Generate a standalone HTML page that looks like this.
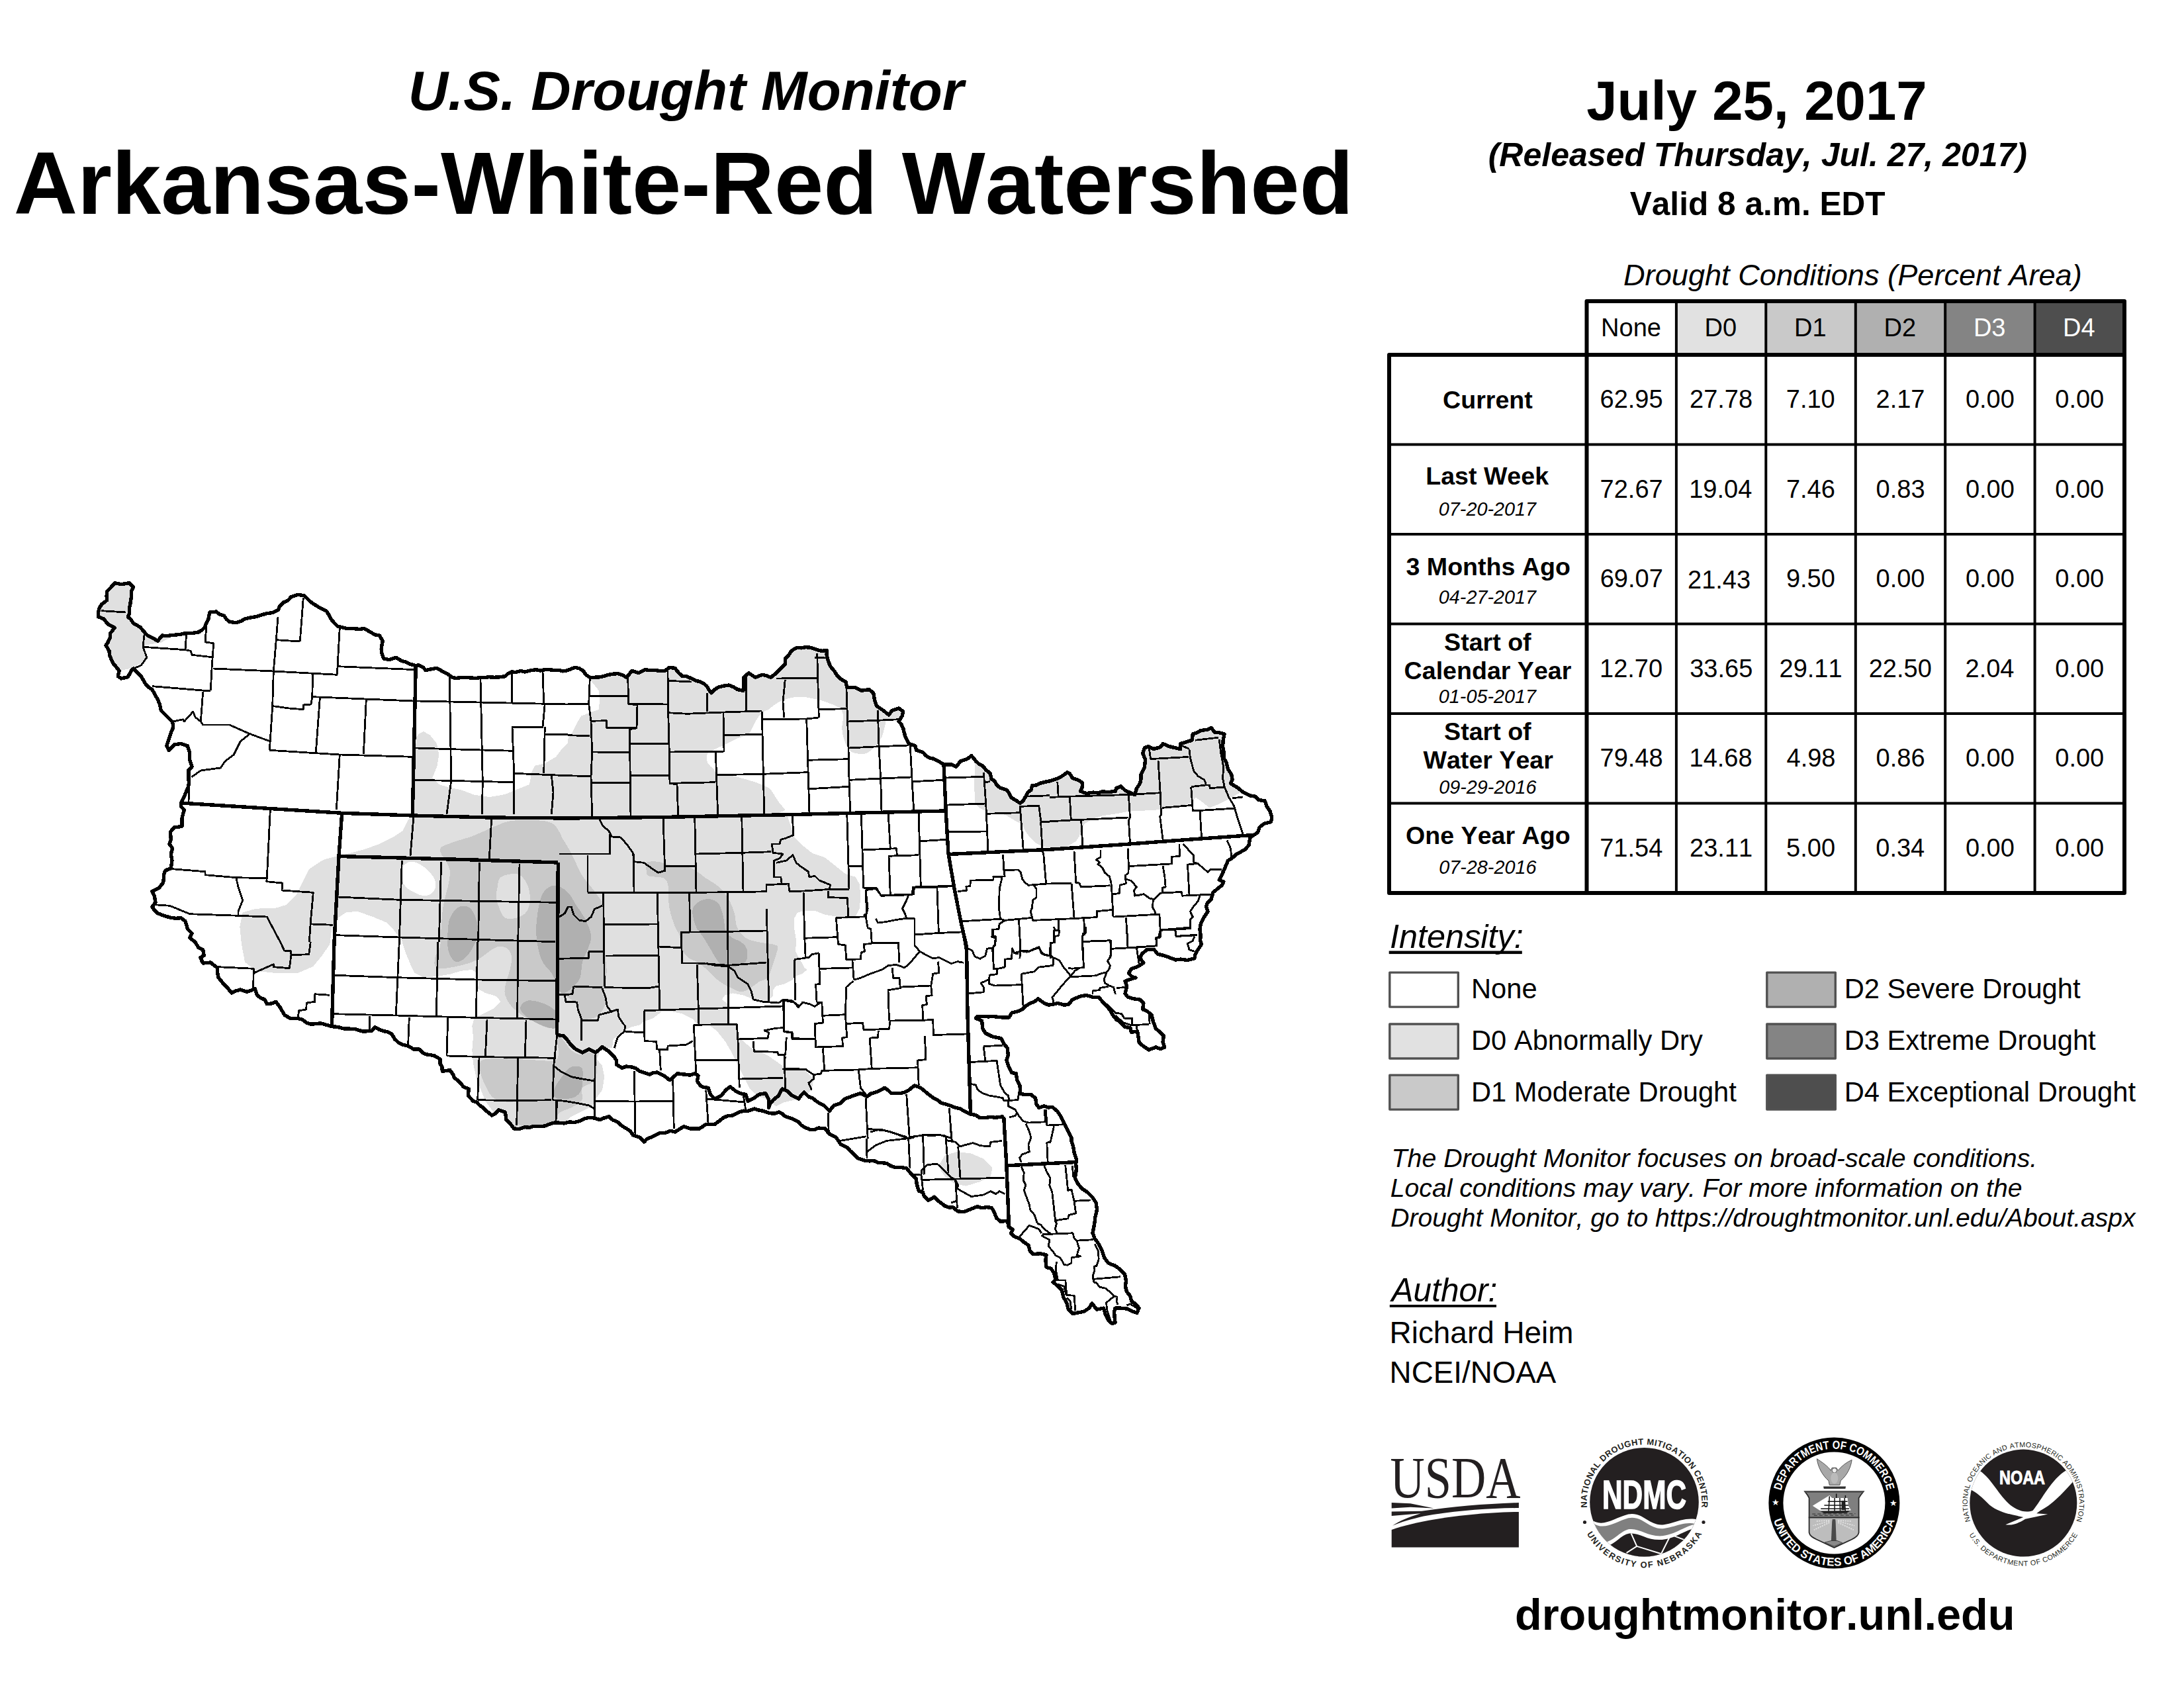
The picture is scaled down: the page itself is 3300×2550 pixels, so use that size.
<!DOCTYPE html>
<html lang="en"><head><meta charset="utf-8"><title>U.S. Drought Monitor - Arkansas-White-Red Watershed</title>
<style>
html,body{margin:0;padding:0;background:#fff;}
body{width:3300px;height:2550px;overflow:hidden;}
svg{display:block;}
text{font-kerning:none;font-family:"Liberation Sans",Arial,Helvetica,sans-serif;fill:#000;}
.b{font-weight:bold}.i{font-style:italic}.m{text-anchor:middle}
</style></head><body>
<svg width="3300" height="2550" viewBox="0 0 3300 2550">
<rect width="3300" height="2550" fill="#fff"/>
<g id="titles">
<text class="b i" x="616.8" y="166.0" font-size="83.49">U.S. Drought Monitor</text>
<text class="b" x="20.7" y="323.0" font-size="133.45">Arkansas-White-Red Watershed</text>
<text class="b" x="2397.2" y="180.8" font-size="83.36">July 25, 2017</text>
<text class="b i" x="2248.7" y="250.5" font-size="50.01">(Released Thursday, Jul. 27, 2017)</text>
<text class="b" x="2462.7" y="325.2" font-size="49.62">Valid 8 a.m. EDT</text>
<text class="i" x="2453.0" y="431.0" font-size="45.17">Drought Conditions (Percent Area)</text>
</g>
<g id="notes">
<text class="i" x="2102.6" y="1762.8" font-size="39.27">The Drought Monitor focuses on broad-scale conditions.</text>
<text class="i" x="2100.8" y="1807.6" font-size="39.13">Local conditions may vary. For more information on the</text>
<text class="i" x="2101.3" y="1852.7" font-size="39.09">Drought Monitor, go to https://droughtmonitor.unl.edu/About.aspx</text>
<text class="i" x="2102.5" y="1965.8" font-size="49.58">Author:</text>
<rect x="2099.8" y="1971" width="161.2" height="3.8" fill="#000"/>
<text x="2099.6" y="2028.8" font-size="45.88">Richard Heim</text>
<text x="2099.6" y="2088.8" font-size="45.78">NCEI/NOAA</text>
<text class="b" x="2288.9" y="2462.4" font-size="66.70">droughtmonitor.unl.edu</text>
</g>
<g id="table">
<rect x="2397.5" y="455" width="135.4" height="81" fill="#ffffff"/>
<rect x="2532.9" y="455" width="135.4" height="81" fill="#e1e1e1"/>
<rect x="2668.3" y="455" width="135.4" height="81" fill="#c9c9c9"/>
<rect x="2803.8" y="455" width="135.4" height="81" fill="#b0b0b0"/>
<rect x="2939.2" y="455" width="135.4" height="81" fill="#848484"/>
<rect x="3074.6" y="455" width="135.4" height="81" fill="#4e4e4e"/>
<line x1="2532.9" y1="455" x2="2532.9" y2="1349" stroke="#000" stroke-width="4"/>
<line x1="2668.3" y1="455" x2="2668.3" y2="1349" stroke="#000" stroke-width="4"/>
<line x1="2803.8" y1="455" x2="2803.8" y2="1349" stroke="#000" stroke-width="4"/>
<line x1="2939.2" y1="455" x2="2939.2" y2="1349" stroke="#000" stroke-width="4"/>
<line x1="3074.6" y1="455" x2="3074.6" y2="1349" stroke="#000" stroke-width="4"/>
<line x1="2099" y1="671.5" x2="3210" y2="671.5" stroke="#000" stroke-width="4"/>
<line x1="2099" y1="807.0" x2="3210" y2="807.0" stroke="#000" stroke-width="4"/>
<line x1="2099" y1="942.5" x2="3210" y2="942.5" stroke="#000" stroke-width="4"/>
<line x1="2099" y1="1078.0" x2="3210" y2="1078.0" stroke="#000" stroke-width="4"/>
<line x1="2099" y1="1213.5" x2="3210" y2="1213.5" stroke="#000" stroke-width="4"/>
<path d="M2397.5 536 V455 H3210 V1349 H2099 V536 H3210 M2397.5 536 V1349" fill="none" stroke="#000" stroke-width="6" stroke-linejoin="round"/>
<text x="2419.1" y="507.5" font-size="38.00">None</text>
<text x="2575.5" y="507.5" font-size="38.00">D0</text>
<text x="2711.1" y="507.5" font-size="38.00">D1</text>
<text x="2846.6" y="507.5" font-size="38.00">D2</text>
<text x="2981.9" y="507.5" font-size="38.00" style="fill:#fff">D3</text>
<text x="3117.0" y="507.5" font-size="38.00" style="fill:#fff">D4</text>
<text x="2417.5" y="616.3" font-size="38.00">62.95</text>
<text x="2553.0" y="616.3" font-size="38.00">27.78</text>
<text x="2698.8" y="616.3" font-size="38.00">7.10</text>
<text x="2834.5" y="616.3" font-size="38.00">2.17</text>
<text x="2969.9" y="616.3" font-size="38.00">0.00</text>
<text x="3105.3" y="616.3" font-size="38.00">0.00</text>
<text x="2417.6" y="751.8" font-size="38.00">72.67</text>
<text x="2552.2" y="751.8" font-size="38.00">19.04</text>
<text x="2698.9" y="751.8" font-size="38.00">7.46</text>
<text x="2834.6" y="751.8" font-size="38.00">0.83</text>
<text x="2969.9" y="751.8" font-size="38.00">0.00</text>
<text x="3105.3" y="751.8" font-size="38.00">0.00</text>
<text x="2417.7" y="887.3" font-size="38.00">69.07</text>
<text x="2550.0" y="889.3" font-size="38.00">21.43</text>
<text x="2698.9" y="887.3" font-size="38.00">9.50</text>
<text x="2834.5" y="887.3" font-size="38.00">0.00</text>
<text x="2969.9" y="887.3" font-size="38.00">0.00</text>
<text x="3105.3" y="887.3" font-size="38.00">0.00</text>
<text x="2417.0" y="1022.8" font-size="38.00">12.70</text>
<text x="2553.2" y="1022.8" font-size="38.00">33.65</text>
<text x="2688.5" y="1022.8" font-size="38.00">29.11</text>
<text x="2823.7" y="1022.8" font-size="38.00">22.50</text>
<text x="2969.5" y="1022.8" font-size="38.00">2.04</text>
<text x="3105.3" y="1022.8" font-size="38.00">0.00</text>
<text x="2417.5" y="1158.3" font-size="38.00">79.48</text>
<text x="2552.5" y="1158.3" font-size="38.00">14.68</text>
<text x="2699.5" y="1158.3" font-size="38.00">4.98</text>
<text x="2834.6" y="1158.3" font-size="38.00">0.86</text>
<text x="2969.9" y="1158.3" font-size="38.00">0.00</text>
<text x="3105.3" y="1158.3" font-size="38.00">0.00</text>
<text x="2417.2" y="1293.8" font-size="38.00">71.54</text>
<text x="2553.1" y="1293.8" font-size="38.00">23.11</text>
<text x="2699.1" y="1293.8" font-size="38.00">5.00</text>
<text x="2834.3" y="1293.8" font-size="38.00">0.34</text>
<text x="2969.9" y="1293.8" font-size="38.00">0.00</text>
<text x="3105.3" y="1293.8" font-size="38.00">0.00</text>
<text class="b" x="2180.1" y="617.4" font-size="37.60">Current</text>
<text class="b" x="2154.2" y="732.0" font-size="37.60">Last Week</text>
<text class="i" x="2173.8" y="778.9" font-size="28.80">07-20-2017</text>
<text class="b" x="2124.5" y="869.3" font-size="37.60">3 Months Ago</text>
<text class="i" x="2173.8" y="912.2" font-size="28.80">04-27-2017</text>
<text class="b" x="2182.1" y="983.0" font-size="37.60">Start of</text>
<text class="b" x="2121.6" y="1025.7" font-size="37.60">Calendar Year</text>
<text class="i" x="2173.8" y="1061.5" font-size="28.80">01-05-2017</text>
<text class="b" x="2182.1" y="1118.4" font-size="37.60">Start of</text>
<text class="b" x="2150.5" y="1161.0" font-size="37.60">Water Year</text>
<text class="i" x="2174.2" y="1199.2" font-size="28.80">09-29-2016</text>
<text class="b" x="2124.1" y="1274.9" font-size="37.60">One Year Ago</text>
<text class="i" x="2174.2" y="1320.4" font-size="28.80">07-28-2016</text>
</g>
<g id="legend">
<text class="i" x="2100.0" y="1432.4" font-size="50.43">Intensity:</text>
<rect x="2098.7" y="1436.5" width="201.1" height="4.6" fill="#000"/>
<rect x="2099.8" y="1469.1" width="103.5" height="52" fill="#ffffff" stroke="#515151" stroke-width="3.4" stroke-linejoin="round"/>
<text x="2223.0" y="1508.3" font-size="41.70">None</text>
<rect x="2099.8" y="1547.0" width="103.5" height="52" fill="#e1e1e1" stroke="#515151" stroke-width="3.4" stroke-linejoin="round"/>
<text x="2223.0" y="1586.4" font-size="41.70">D0 Abnormally Dry</text>
<rect x="2099.8" y="1624.1" width="103.5" height="52" fill="#c9c9c9" stroke="#515151" stroke-width="3.4" stroke-linejoin="round"/>
<text x="2223.0" y="1663.5" font-size="41.70">D1 Moderate Drought</text>
<rect x="2669.8" y="1469.1" width="103.5" height="52" fill="#b0b0b0" stroke="#515151" stroke-width="3.4" stroke-linejoin="round"/>
<text x="2786.7" y="1508.3" font-size="41.70">D2 Severe Drought</text>
<rect x="2669.8" y="1547.0" width="103.5" height="52" fill="#848484" stroke="#515151" stroke-width="3.4" stroke-linejoin="round"/>
<text x="2786.7" y="1586.4" font-size="41.70">D3 Extreme Drought</text>
<rect x="2669.8" y="1624.1" width="103.5" height="52" fill="#4e4e4e" stroke="#515151" stroke-width="3.4" stroke-linejoin="round"/>
<text x="2786.7" y="1663.5" font-size="41.70">D4 Exceptional Drought</text>
</g>
<g id="map" shape-rendering="crispEdges">
<defs><clipPath id="ws"><path d="M173.3 880.7 L183.3 882.7 L195.0 880.7 L201.7 886.7 L198.3 893.3 L196.7 913.3 L193.3 931.7 L201.7 941.7 L211.7 947.3 L218.3 955.0 L230.0 963.3 L238.3 968.3 L245.0 960.0 L263.3 959.3 L280.0 956.7 L300.0 955.0 L310.0 946.7 L315.0 935.0 L316.7 925.0 L326.7 924.0 L338.3 930.0 L346.7 939.3 L356.7 940.7 L370.0 935.0 L386.7 931.7 L403.3 926.7 L420.0 921.7 L428.3 910.0 L440.0 901.7 L450.0 898.3 L460.0 900.0 L468.3 908.3 L483.3 918.3 L493.3 923.3 L500.0 935.0 L510.0 946.0 L530.0 949.3 L550.0 949.3 L560.0 955.0 L573.3 960.0 L578.3 968.3 L576.7 986.7 L580.0 995.0 L588.3 996.7 L598.3 993.3 L606.7 998.3 L620.0 1003.3 L633.3 1005.0 L643.3 1012.7 L660.0 1009.3 L670.0 1015.0 L683.3 1023.3 L703.3 1023.3 L726.7 1023.3 L746.7 1023.3 L763.3 1021.7 L773.3 1015.0 L793.3 1015.0 L810.0 1011.7 L830.0 1011.7 L857.7 1012.7 L869.7 1008.3 L881.3 1013.3 L891.3 1023.3 L908.0 1022.7 L924.7 1018.3 L941.3 1020.0 L946.3 1023.3 L954.7 1013.3 L964.7 1016.7 L974.7 1011.7 L991.3 1012.7 L1004.7 1013.3 L1011.3 1008.3 L1019.7 1009.3 L1031.3 1021.7 L1044.7 1025.0 L1058.0 1030.0 L1068.0 1036.7 L1074.7 1046.7 L1084.7 1038.3 L1101.3 1035.0 L1114.7 1041.7 L1123.0 1043.3 L1124.0 1023.3 L1131.3 1016.7 L1141.3 1023.3 L1151.3 1019.3 L1164.7 1023.3 L1173.0 1016.7 L1178.0 1011.7 L1186.3 1003.3 L1186.3 995.0 L1194.7 985.0 L1204.7 978.3 L1224.7 978.3 L1234.7 981.7 L1249.7 982.7 L1250.7 996.7 L1254.7 1006.7 L1264.7 1020.0 L1278.0 1030.0 L1279.7 1038.3 L1291.3 1038.3 L1301.3 1043.3 L1313.0 1041.7 L1319.7 1046.7 L1321.3 1056.7 L1324.7 1066.7 L1334.7 1073.3 L1343.0 1080.0 L1348.0 1073.3 L1358.0 1070.0 L1364.7 1075.0 L1363.0 1081.7 L1358.0 1090.0 L1364.7 1100.0 L1368.0 1113.3 L1373.0 1123.3 L1383.0 1126.7 L1384.7 1133.3 L1394.7 1136.7 L1404.7 1145.0 L1418.0 1150.0 L1426.3 1155.0 L1438.0 1155.0 L1444.7 1158.3 L1451.3 1150.0 L1461.3 1146.7 L1468.0 1141.7 L1474.7 1150.0 L1484.7 1156.7 L1496.3 1168.3 L1498.0 1176.7 L1511.3 1190.0 L1521.3 1193.3 L1528.0 1205.0 L1541.3 1213.3 L1549.7 1203.3 L1558.0 1193.3 L1559.7 1186.7 L1571.3 1183.3 L1585.7 1180.0 L1596.5 1176.6 L1604.5 1172.6 L1612.5 1166.8 L1616.4 1168.6 L1620.4 1175.3 L1631.0 1179.3 L1635.8 1183.2 L1635.0 1189.9 L1632.4 1195.2 L1641.7 1198.6 L1652.3 1197.1 L1665.6 1196.0 L1676.2 1196.5 L1685.5 1195.2 L1686.8 1190.7 L1693.5 1188.0 L1700.1 1193.9 L1708.1 1197.8 L1714.7 1200.5 L1717.4 1191.2 L1722.7 1183.2 L1724.0 1170.0 L1729.3 1159.3 L1730.6 1147.4 L1726.6 1138.1 L1729.3 1130.1 L1734.6 1127.5 L1742.6 1131.5 L1753.2 1128.8 L1757.2 1123.5 L1766.5 1127.5 L1777.1 1130.1 L1783.7 1131.5 L1783.7 1123.5 L1793.0 1120.8 L1801.0 1118.2 L1802.3 1108.9 L1814.3 1103.6 L1824.9 1102.2 L1830.2 1099.6 L1835.5 1106.2 L1850.1 1108.9 L1848.3 1116.9 L1847.5 1127.5 L1848.8 1144.7 L1852.8 1151.4 L1855.5 1162.0 L1860.8 1170.0 L1862.1 1177.9 L1859.4 1183.2 L1870.1 1189.9 L1878.0 1196.5 L1888.6 1201.8 L1896.6 1203.2 L1901.9 1208.5 L1911.2 1209.8 L1913.9 1217.8 L1919.2 1225.7 L1921.8 1235.0 L1920.5 1241.7 L1909.9 1244.3 L1903.3 1249.6 L1900.6 1257.6 L1894.0 1261.6 L1888.6 1265.6 L1887.3 1276.2 L1882.0 1282.8 L1872.7 1288.1 L1862.1 1296.1 L1855.5 1300.1 L1851.5 1309.4 L1847.5 1318.7 L1842.2 1329.3 L1848.8 1332.0 L1846.2 1337.3 L1838.2 1343.9 L1832.9 1347.9 L1830.2 1358.5 L1822.3 1369.1 L1824.9 1377.1 L1819.6 1385.1 L1814.3 1395.7 L1813.0 1403.7 L1814.2 1413.3 L1815.5 1426.6 L1810.2 1434.5 L1804.9 1447.8 L1794.3 1450.5 L1783.7 1449.1 L1770.4 1447.8 L1759.8 1443.8 L1749.1 1441.2 L1743.8 1434.5 L1733.2 1434.5 L1725.2 1441.2 L1722.6 1447.8 L1727.9 1454.4 L1719.9 1459.8 L1709.3 1463.7 L1705.3 1470.4 L1710.6 1475.7 L1715.9 1477.0 L1706.6 1479.7 L1700.0 1482.3 L1702.7 1490.3 L1700.0 1500.9 L1704.0 1506.2 L1713.3 1508.9 L1722.6 1510.2 L1727.9 1515.5 L1726.6 1524.8 L1733.2 1527.5 L1739.8 1532.8 L1742.5 1543.4 L1746.5 1554.0 L1753.1 1559.3 L1758.4 1564.7 L1757.1 1573.9 L1759.8 1581.9 L1753.1 1584.6 L1746.5 1581.9 L1735.9 1585.9 L1727.9 1580.6 L1721.3 1575.3 L1719.9 1566.0 L1718.6 1558.0 L1709.3 1559.3 L1708.0 1552.7 L1700.0 1551.4 L1692.0 1543.4 L1682.7 1535.4 L1677.4 1526.1 L1670.8 1518.2 L1665.5 1512.9 L1660.2 1506.2 L1650.9 1506.2 L1641.6 1503.6 L1629.6 1506.2 L1620.3 1510.2 L1615.0 1516.9 L1608.4 1518.2 L1597.8 1515.5 L1584.5 1518.2 L1577.8 1515.5 L1568.6 1508.9 L1563.2 1512.9 L1550.0 1519.5 L1539.3 1527.5 L1528.7 1530.1 L1524.7 1536.8 L1512.8 1536.8 L1499.5 1535.4 L1486.2 1535.4 L1476.9 1535.4 L1474.3 1538.1 L1483.6 1542.1 L1484.9 1554.0 L1488.9 1560.7 L1499.5 1566.0 L1512.8 1568.6 L1516.8 1576.6 L1522.1 1583.2 L1523.4 1593.9 L1520.8 1601.8 L1524.7 1612.5 L1528.7 1620.4 L1535.4 1621.8 L1536.7 1631.0 L1540.7 1639.0 L1540.7 1652.3 L1550.0 1653.6 L1557.9 1653.6 L1564.6 1658.9 L1565.9 1668.2 L1569.9 1673.5 L1577.8 1670.9 L1589.8 1672.2 L1597.8 1678.8 L1603.1 1686.8 L1608.4 1697.4 L1613.7 1708.1 L1619.0 1718.7 L1621.7 1732.0 L1624.3 1745.2 L1625.7 1758.5 L1625.7 1771.8 L1624.3 1779.8 L1628.3 1787.7 L1634.9 1795.7 L1642.9 1801.0 L1650.9 1809.0 L1656.2 1816.9 L1657.5 1827.6 L1654.9 1838.2 L1653.0 1852.5 L1651.0 1862.8 L1654.1 1871.0 L1660.2 1879.3 L1665.4 1889.6 L1668.5 1899.9 L1674.7 1908.1 L1685.0 1912.2 L1693.2 1918.4 L1699.4 1924.6 L1701.5 1934.9 L1700.4 1943.1 L1702.5 1951.4 L1707.6 1957.6 L1709.7 1965.8 L1715.9 1969.9 L1721.0 1976.1 L1717.9 1983.3 L1711.8 1981.3 L1703.5 1977.1 L1693.2 1976.1 L1685.0 1976.1 L1683.9 1988.5 L1685.0 1997.8 L1680.8 1999.8 L1674.7 1994.7 L1670.5 1986.4 L1667.5 1976.1 L1657.1 1978.2 L1649.9 1968.9 L1645.8 1976.1 L1637.6 1981.3 L1627.3 1983.3 L1621.1 1984.4 L1613.9 1977.1 L1611.8 1967.9 L1606.7 1959.6 L1604.6 1949.3 L1596.4 1941.1 L1591.2 1937.0 L1595.3 1932.8 L1592.2 1922.5 L1588.1 1916.4 L1580.9 1914.3 L1579.9 1904.0 L1580.9 1895.8 L1571.6 1893.7 L1561.3 1894.7 L1556.2 1889.6 L1554.1 1881.3 L1546.9 1876.2 L1540.7 1871.0 L1532.5 1867.9 L1527.3 1862.8 L1530.4 1857.6 L1524.2 1853.5 L1522.2 1844.2 L1511.9 1845.3 L1505.7 1840.1 L1502.6 1831.9 L1498.5 1824.7 L1491.3 1823.6 L1483.0 1824.7 L1476.8 1822.6 L1466.5 1826.7 L1456.2 1830.8 L1447.0 1829.8 L1439.8 1823.6 L1427.4 1821.6 L1418.1 1814.4 L1411.9 1808.2 L1402.7 1813.3 L1396.5 1807.2 L1394.4 1801.0 L1388.2 1798.9 L1385.2 1788.6 L1384.1 1780.4 L1376.7 1773.3 L1370.0 1765.0 L1360.0 1763.3 L1346.7 1761.7 L1333.3 1756.7 L1320.0 1753.3 L1306.7 1753.3 L1296.7 1750.0 L1290.0 1743.3 L1280.0 1733.3 L1270.0 1728.3 L1263.3 1718.3 L1253.3 1713.3 L1246.7 1705.0 L1236.7 1704.0 L1225.0 1706.7 L1216.7 1703.3 L1206.7 1695.0 L1196.7 1690.0 L1186.7 1686.7 L1176.7 1680.0 L1163.3 1681.7 L1153.3 1678.3 L1140.0 1675.0 L1130.0 1678.3 L1116.7 1680.0 L1106.7 1685.0 L1093.3 1688.3 L1080.0 1698.3 L1066.7 1698.3 L1056.7 1705.0 L1043.3 1705.0 L1033.3 1701.7 L1020.0 1710.0 L1013.3 1708.3 L996.7 1711.7 L983.3 1718.3 L973.3 1725.0 L966.7 1718.3 L956.7 1715.0 L946.7 1705.0 L933.3 1695.0 L920.0 1686.7 L906.7 1691.7 L890.0 1688.3 L876.7 1693.3 L860.0 1695.0 L843.3 1696.0 L830.0 1698.3 L813.3 1701.7 L800.0 1703.3 L793.3 1702.7 L776.7 1705.0 L771.7 1698.3 L765.0 1691.7 L763.3 1680.0 L753.3 1676.7 L743.3 1685.0 L735.0 1678.3 L725.0 1670.0 L715.0 1663.3 L707.3 1655.0 L708.3 1645.0 L700.0 1641.7 L686.7 1628.3 L680.0 1616.7 L668.3 1618.3 L665.0 1600.0 L656.7 1595.0 L643.3 1592.7 L633.3 1585.0 L625.0 1585.0 L616.7 1580.0 L608.3 1578.3 L596.7 1570.0 L591.7 1561.7 L578.3 1557.3 L566.7 1551.7 L561.7 1557.3 L543.3 1556.7 L520.0 1554.0 L501.7 1550.7 L490.0 1547.3 L476.7 1546.7 L463.3 1545.0 L450.0 1538.3 L438.3 1538.3 L430.0 1533.3 L423.3 1521.7 L416.7 1513.3 L403.3 1516.7 L400.0 1510.0 L388.3 1503.3 L385.0 1493.3 L373.3 1498.3 L363.3 1495.0 L350.0 1500.0 L343.3 1491.7 L336.7 1485.0 L330.0 1476.7 L328.3 1461.7 L318.3 1454.0 L306.7 1455.0 L302.7 1446.7 L308.3 1443.3 L306.7 1435.0 L300.0 1431.7 L295.0 1423.3 L286.7 1416.7 L290.0 1410.0 L283.3 1403.3 L280.0 1391.7 L273.3 1386.7 L256.7 1386.0 L243.3 1381.7 L233.3 1375.0 L230.0 1370.0 L235.0 1363.3 L233.3 1353.3 L230.0 1346.7 L240.0 1341.7 L246.7 1333.3 L250.0 1315.0 L258.3 1311.7 L260.0 1300.0 L258.3 1290.0 L260.7 1281.7 L256.0 1275.0 L258.3 1268.3 L257.3 1256.7 L263.3 1250.0 L275.0 1248.3 L275.0 1236.7 L278.3 1223.3 L273.3 1218.3 L274.0 1211.7 L278.3 1203.3 L284.0 1190.0 L285.0 1176.7 L285.0 1163.3 L290.0 1158.3 L286.7 1148.3 L286.7 1136.7 L283.3 1126.7 L273.3 1123.3 L263.3 1125.0 L255.0 1133.3 L251.7 1126.7 L255.0 1116.7 L258.3 1106.7 L261.7 1095.0 L260.0 1090.0 L251.7 1081.7 L243.3 1073.3 L238.3 1056.7 L230.0 1041.7 L220.0 1033.3 L208.3 1016.7 L201.7 1010.0 L198.3 1013.3 L193.3 1022.7 L183.3 1025.0 L178.3 1021.7 L180.0 1013.3 L175.0 1006.7 L168.3 996.7 L165.0 983.3 L160.0 975.0 L163.3 970.0 L166.7 956.7 L173.3 948.3 L163.3 943.3 L156.7 935.0 L148.3 931.7 L148.3 925.0 L153.3 913.3 L161.7 906.7 L161.7 893.3 L166.7 888.3 L173.3 880.7 Z"/></clipPath></defs>
<path d="M173.3 880.7 L183.3 882.7 L195.0 880.7 L201.7 886.7 L198.3 893.3 L196.7 913.3 L193.3 931.7 L201.7 941.7 L211.7 947.3 L218.3 955.0 L230.0 963.3 L238.3 968.3 L245.0 960.0 L263.3 959.3 L280.0 956.7 L300.0 955.0 L310.0 946.7 L315.0 935.0 L316.7 925.0 L326.7 924.0 L338.3 930.0 L346.7 939.3 L356.7 940.7 L370.0 935.0 L386.7 931.7 L403.3 926.7 L420.0 921.7 L428.3 910.0 L440.0 901.7 L450.0 898.3 L460.0 900.0 L468.3 908.3 L483.3 918.3 L493.3 923.3 L500.0 935.0 L510.0 946.0 L530.0 949.3 L550.0 949.3 L560.0 955.0 L573.3 960.0 L578.3 968.3 L576.7 986.7 L580.0 995.0 L588.3 996.7 L598.3 993.3 L606.7 998.3 L620.0 1003.3 L633.3 1005.0 L643.3 1012.7 L660.0 1009.3 L670.0 1015.0 L683.3 1023.3 L703.3 1023.3 L726.7 1023.3 L746.7 1023.3 L763.3 1021.7 L773.3 1015.0 L793.3 1015.0 L810.0 1011.7 L830.0 1011.7 L857.7 1012.7 L869.7 1008.3 L881.3 1013.3 L891.3 1023.3 L908.0 1022.7 L924.7 1018.3 L941.3 1020.0 L946.3 1023.3 L954.7 1013.3 L964.7 1016.7 L974.7 1011.7 L991.3 1012.7 L1004.7 1013.3 L1011.3 1008.3 L1019.7 1009.3 L1031.3 1021.7 L1044.7 1025.0 L1058.0 1030.0 L1068.0 1036.7 L1074.7 1046.7 L1084.7 1038.3 L1101.3 1035.0 L1114.7 1041.7 L1123.0 1043.3 L1124.0 1023.3 L1131.3 1016.7 L1141.3 1023.3 L1151.3 1019.3 L1164.7 1023.3 L1173.0 1016.7 L1178.0 1011.7 L1186.3 1003.3 L1186.3 995.0 L1194.7 985.0 L1204.7 978.3 L1224.7 978.3 L1234.7 981.7 L1249.7 982.7 L1250.7 996.7 L1254.7 1006.7 L1264.7 1020.0 L1278.0 1030.0 L1279.7 1038.3 L1291.3 1038.3 L1301.3 1043.3 L1313.0 1041.7 L1319.7 1046.7 L1321.3 1056.7 L1324.7 1066.7 L1334.7 1073.3 L1343.0 1080.0 L1348.0 1073.3 L1358.0 1070.0 L1364.7 1075.0 L1363.0 1081.7 L1358.0 1090.0 L1364.7 1100.0 L1368.0 1113.3 L1373.0 1123.3 L1383.0 1126.7 L1384.7 1133.3 L1394.7 1136.7 L1404.7 1145.0 L1418.0 1150.0 L1426.3 1155.0 L1438.0 1155.0 L1444.7 1158.3 L1451.3 1150.0 L1461.3 1146.7 L1468.0 1141.7 L1474.7 1150.0 L1484.7 1156.7 L1496.3 1168.3 L1498.0 1176.7 L1511.3 1190.0 L1521.3 1193.3 L1528.0 1205.0 L1541.3 1213.3 L1549.7 1203.3 L1558.0 1193.3 L1559.7 1186.7 L1571.3 1183.3 L1585.7 1180.0 L1596.5 1176.6 L1604.5 1172.6 L1612.5 1166.8 L1616.4 1168.6 L1620.4 1175.3 L1631.0 1179.3 L1635.8 1183.2 L1635.0 1189.9 L1632.4 1195.2 L1641.7 1198.6 L1652.3 1197.1 L1665.6 1196.0 L1676.2 1196.5 L1685.5 1195.2 L1686.8 1190.7 L1693.5 1188.0 L1700.1 1193.9 L1708.1 1197.8 L1714.7 1200.5 L1717.4 1191.2 L1722.7 1183.2 L1724.0 1170.0 L1729.3 1159.3 L1730.6 1147.4 L1726.6 1138.1 L1729.3 1130.1 L1734.6 1127.5 L1742.6 1131.5 L1753.2 1128.8 L1757.2 1123.5 L1766.5 1127.5 L1777.1 1130.1 L1783.7 1131.5 L1783.7 1123.5 L1793.0 1120.8 L1801.0 1118.2 L1802.3 1108.9 L1814.3 1103.6 L1824.9 1102.2 L1830.2 1099.6 L1835.5 1106.2 L1850.1 1108.9 L1848.3 1116.9 L1847.5 1127.5 L1848.8 1144.7 L1852.8 1151.4 L1855.5 1162.0 L1860.8 1170.0 L1862.1 1177.9 L1859.4 1183.2 L1870.1 1189.9 L1878.0 1196.5 L1888.6 1201.8 L1896.6 1203.2 L1901.9 1208.5 L1911.2 1209.8 L1913.9 1217.8 L1919.2 1225.7 L1921.8 1235.0 L1920.5 1241.7 L1909.9 1244.3 L1903.3 1249.6 L1900.6 1257.6 L1894.0 1261.6 L1888.6 1265.6 L1887.3 1276.2 L1882.0 1282.8 L1872.7 1288.1 L1862.1 1296.1 L1855.5 1300.1 L1851.5 1309.4 L1847.5 1318.7 L1842.2 1329.3 L1848.8 1332.0 L1846.2 1337.3 L1838.2 1343.9 L1832.9 1347.9 L1830.2 1358.5 L1822.3 1369.1 L1824.9 1377.1 L1819.6 1385.1 L1814.3 1395.7 L1813.0 1403.7 L1814.2 1413.3 L1815.5 1426.6 L1810.2 1434.5 L1804.9 1447.8 L1794.3 1450.5 L1783.7 1449.1 L1770.4 1447.8 L1759.8 1443.8 L1749.1 1441.2 L1743.8 1434.5 L1733.2 1434.5 L1725.2 1441.2 L1722.6 1447.8 L1727.9 1454.4 L1719.9 1459.8 L1709.3 1463.7 L1705.3 1470.4 L1710.6 1475.7 L1715.9 1477.0 L1706.6 1479.7 L1700.0 1482.3 L1702.7 1490.3 L1700.0 1500.9 L1704.0 1506.2 L1713.3 1508.9 L1722.6 1510.2 L1727.9 1515.5 L1726.6 1524.8 L1733.2 1527.5 L1739.8 1532.8 L1742.5 1543.4 L1746.5 1554.0 L1753.1 1559.3 L1758.4 1564.7 L1757.1 1573.9 L1759.8 1581.9 L1753.1 1584.6 L1746.5 1581.9 L1735.9 1585.9 L1727.9 1580.6 L1721.3 1575.3 L1719.9 1566.0 L1718.6 1558.0 L1709.3 1559.3 L1708.0 1552.7 L1700.0 1551.4 L1692.0 1543.4 L1682.7 1535.4 L1677.4 1526.1 L1670.8 1518.2 L1665.5 1512.9 L1660.2 1506.2 L1650.9 1506.2 L1641.6 1503.6 L1629.6 1506.2 L1620.3 1510.2 L1615.0 1516.9 L1608.4 1518.2 L1597.8 1515.5 L1584.5 1518.2 L1577.8 1515.5 L1568.6 1508.9 L1563.2 1512.9 L1550.0 1519.5 L1539.3 1527.5 L1528.7 1530.1 L1524.7 1536.8 L1512.8 1536.8 L1499.5 1535.4 L1486.2 1535.4 L1476.9 1535.4 L1474.3 1538.1 L1483.6 1542.1 L1484.9 1554.0 L1488.9 1560.7 L1499.5 1566.0 L1512.8 1568.6 L1516.8 1576.6 L1522.1 1583.2 L1523.4 1593.9 L1520.8 1601.8 L1524.7 1612.5 L1528.7 1620.4 L1535.4 1621.8 L1536.7 1631.0 L1540.7 1639.0 L1540.7 1652.3 L1550.0 1653.6 L1557.9 1653.6 L1564.6 1658.9 L1565.9 1668.2 L1569.9 1673.5 L1577.8 1670.9 L1589.8 1672.2 L1597.8 1678.8 L1603.1 1686.8 L1608.4 1697.4 L1613.7 1708.1 L1619.0 1718.7 L1621.7 1732.0 L1624.3 1745.2 L1625.7 1758.5 L1625.7 1771.8 L1624.3 1779.8 L1628.3 1787.7 L1634.9 1795.7 L1642.9 1801.0 L1650.9 1809.0 L1656.2 1816.9 L1657.5 1827.6 L1654.9 1838.2 L1653.0 1852.5 L1651.0 1862.8 L1654.1 1871.0 L1660.2 1879.3 L1665.4 1889.6 L1668.5 1899.9 L1674.7 1908.1 L1685.0 1912.2 L1693.2 1918.4 L1699.4 1924.6 L1701.5 1934.9 L1700.4 1943.1 L1702.5 1951.4 L1707.6 1957.6 L1709.7 1965.8 L1715.9 1969.9 L1721.0 1976.1 L1717.9 1983.3 L1711.8 1981.3 L1703.5 1977.1 L1693.2 1976.1 L1685.0 1976.1 L1683.9 1988.5 L1685.0 1997.8 L1680.8 1999.8 L1674.7 1994.7 L1670.5 1986.4 L1667.5 1976.1 L1657.1 1978.2 L1649.9 1968.9 L1645.8 1976.1 L1637.6 1981.3 L1627.3 1983.3 L1621.1 1984.4 L1613.9 1977.1 L1611.8 1967.9 L1606.7 1959.6 L1604.6 1949.3 L1596.4 1941.1 L1591.2 1937.0 L1595.3 1932.8 L1592.2 1922.5 L1588.1 1916.4 L1580.9 1914.3 L1579.9 1904.0 L1580.9 1895.8 L1571.6 1893.7 L1561.3 1894.7 L1556.2 1889.6 L1554.1 1881.3 L1546.9 1876.2 L1540.7 1871.0 L1532.5 1867.9 L1527.3 1862.8 L1530.4 1857.6 L1524.2 1853.5 L1522.2 1844.2 L1511.9 1845.3 L1505.7 1840.1 L1502.6 1831.9 L1498.5 1824.7 L1491.3 1823.6 L1483.0 1824.7 L1476.8 1822.6 L1466.5 1826.7 L1456.2 1830.8 L1447.0 1829.8 L1439.8 1823.6 L1427.4 1821.6 L1418.1 1814.4 L1411.9 1808.2 L1402.7 1813.3 L1396.5 1807.2 L1394.4 1801.0 L1388.2 1798.9 L1385.2 1788.6 L1384.1 1780.4 L1376.7 1773.3 L1370.0 1765.0 L1360.0 1763.3 L1346.7 1761.7 L1333.3 1756.7 L1320.0 1753.3 L1306.7 1753.3 L1296.7 1750.0 L1290.0 1743.3 L1280.0 1733.3 L1270.0 1728.3 L1263.3 1718.3 L1253.3 1713.3 L1246.7 1705.0 L1236.7 1704.0 L1225.0 1706.7 L1216.7 1703.3 L1206.7 1695.0 L1196.7 1690.0 L1186.7 1686.7 L1176.7 1680.0 L1163.3 1681.7 L1153.3 1678.3 L1140.0 1675.0 L1130.0 1678.3 L1116.7 1680.0 L1106.7 1685.0 L1093.3 1688.3 L1080.0 1698.3 L1066.7 1698.3 L1056.7 1705.0 L1043.3 1705.0 L1033.3 1701.7 L1020.0 1710.0 L1013.3 1708.3 L996.7 1711.7 L983.3 1718.3 L973.3 1725.0 L966.7 1718.3 L956.7 1715.0 L946.7 1705.0 L933.3 1695.0 L920.0 1686.7 L906.7 1691.7 L890.0 1688.3 L876.7 1693.3 L860.0 1695.0 L843.3 1696.0 L830.0 1698.3 L813.3 1701.7 L800.0 1703.3 L793.3 1702.7 L776.7 1705.0 L771.7 1698.3 L765.0 1691.7 L763.3 1680.0 L753.3 1676.7 L743.3 1685.0 L735.0 1678.3 L725.0 1670.0 L715.0 1663.3 L707.3 1655.0 L708.3 1645.0 L700.0 1641.7 L686.7 1628.3 L680.0 1616.7 L668.3 1618.3 L665.0 1600.0 L656.7 1595.0 L643.3 1592.7 L633.3 1585.0 L625.0 1585.0 L616.7 1580.0 L608.3 1578.3 L596.7 1570.0 L591.7 1561.7 L578.3 1557.3 L566.7 1551.7 L561.7 1557.3 L543.3 1556.7 L520.0 1554.0 L501.7 1550.7 L490.0 1547.3 L476.7 1546.7 L463.3 1545.0 L450.0 1538.3 L438.3 1538.3 L430.0 1533.3 L423.3 1521.7 L416.7 1513.3 L403.3 1516.7 L400.0 1510.0 L388.3 1503.3 L385.0 1493.3 L373.3 1498.3 L363.3 1495.0 L350.0 1500.0 L343.3 1491.7 L336.7 1485.0 L330.0 1476.7 L328.3 1461.7 L318.3 1454.0 L306.7 1455.0 L302.7 1446.7 L308.3 1443.3 L306.7 1435.0 L300.0 1431.7 L295.0 1423.3 L286.7 1416.7 L290.0 1410.0 L283.3 1403.3 L280.0 1391.7 L273.3 1386.7 L256.7 1386.0 L243.3 1381.7 L233.3 1375.0 L230.0 1370.0 L235.0 1363.3 L233.3 1353.3 L230.0 1346.7 L240.0 1341.7 L246.7 1333.3 L250.0 1315.0 L258.3 1311.7 L260.0 1300.0 L258.3 1290.0 L260.7 1281.7 L256.0 1275.0 L258.3 1268.3 L257.3 1256.7 L263.3 1250.0 L275.0 1248.3 L275.0 1236.7 L278.3 1223.3 L273.3 1218.3 L274.0 1211.7 L278.3 1203.3 L284.0 1190.0 L285.0 1176.7 L285.0 1163.3 L290.0 1158.3 L286.7 1148.3 L286.7 1136.7 L283.3 1126.7 L273.3 1123.3 L263.3 1125.0 L255.0 1133.3 L251.7 1126.7 L255.0 1116.7 L258.3 1106.7 L261.7 1095.0 L260.0 1090.0 L251.7 1081.7 L243.3 1073.3 L238.3 1056.7 L230.0 1041.7 L220.0 1033.3 L208.3 1016.7 L201.7 1010.0 L198.3 1013.3 L193.3 1022.7 L183.3 1025.0 L178.3 1021.7 L180.0 1013.3 L175.0 1006.7 L168.3 996.7 L165.0 983.3 L160.0 975.0 L163.3 970.0 L166.7 956.7 L173.3 948.3 L163.3 943.3 L156.7 935.0 L148.3 931.7 L148.3 925.0 L153.3 913.3 L161.7 906.7 L161.7 893.3 L166.7 888.3 L173.3 880.7 Z" fill="#fff"/>
<g clip-path="url(#ws)">
<path d="M173.3 870.0 L206.7 873.3 L201.7 941.7 L218.3 955.0 L230.0 960.0 L258.3 962.7 L243.3 970.7 L217.3 975.0 L222.7 993.3 L213.3 1001.7 L196.7 1010.0 L183.3 1012.7 L160.0 1010.0 L136.7 926.7 Z" fill="#e0e0e0"/>
<path d="M629.0 1113.3 L633.3 1108.3 L640.0 1105.0 L650.0 1110.7 L660.0 1123.3 L663.3 1140.0 L660.7 1156.7 L653.3 1175.0 L663.3 1185.0 L680.0 1190.0 L696.7 1193.3 L716.7 1200.7 L740.0 1204.0 L763.3 1200.0 L783.3 1191.7 L800.0 1185.0 L803.3 1166.7 L808.3 1156.7 L823.3 1153.3 L840.0 1143.3 L850.0 1130.0 L857.7 1123.3 L858.0 1116.7 L864.7 1106.7 L871.3 1093.3 L878.0 1081.7 L891.3 1076.7 L904.7 1071.7 L906.3 1056.7 L904.7 1043.3 L893.0 1028.3 L891.3 1025.0 L891.3 960.0 L1428.7 960.0 L1428.7 1225.7 L1191.3 1231.0 L858.0 1236.3 L623.3 1230.7 Z" fill="#e0e0e0"/>
<path d="M1189.5 1230.8 L1194.1 1246.2 L1200.2 1264.7 L1212.6 1277.0 L1228.0 1289.3 L1246.5 1295.5 L1261.9 1307.8 L1277.3 1320.1 L1292.7 1324.8 L1298.8 1335.6 L1300.4 1354.0 L1298.8 1372.5 L1292.7 1384.8 L1277.3 1388.5 L1264.9 1384.8 L1246.5 1381.8 L1231.1 1375.6 L1215.7 1375.6 L1204.9 1378.7 L1199.6 1387.9 L1200.2 1403.3 L1203.3 1421.8 L1201.8 1437.2 L1215.7 1461.9 L1219.3 1464.9 L1212.6 1471.1 L1203.3 1474.2 L1197.2 1480.3 L1184.8 1486.5 L1172.5 1489.6 L1167.9 1495.7 L1167.9 1505.0 L1160.2 1511.2 L1138.6 1509.6 L1123.2 1503.5 L1107.8 1500.4 L1095.5 1503.5 L1090.9 1509.6 L1100.1 1517.3 L1101.7 1546.6 L1114.6 1548.1 L1115.5 1566.6 L1135.6 1583.5 L1160.2 1594.3 L1181.8 1609.7 L1184.8 1615.9 L1215.7 1615.9 L1229.5 1629.8 L1226.4 1646.7 L1212.6 1659.0 L1184.8 1665.2 L1172.5 1671.3 L1160.2 1660.6 L1144.8 1655.9 L1132.5 1643.6 L1123.2 1625.1 L1114.0 1606.7 L1104.7 1588.2 L1095.5 1572.8 L1083.2 1557.4 L1070.9 1548.1 L1053.9 1547.5 L1046.2 1538.9 L1030.8 1531.2 L1015.4 1528.1 L1000.0 1528.1 L986.7 1538.3 L972.7 1543.3 L966.7 1548.3 L953.3 1551.7 L940.0 1558.3 L926.7 1570.0 L925.0 1583.3 L913.3 1583.3 L910.0 1580.0 L901.7 1600.0 L910.0 1610.0 L913.3 1626.7 L910.0 1646.7 L900.0 1660.0 L898.3 1666.7 L890.0 1673.3 L876.7 1680.0 L863.3 1686.7 L853.3 1696.7 L846.7 1720.0 L773.3 1720.0 L773.3 1706.7 L766.7 1700.0 L753.3 1690.0 L743.3 1676.7 L733.3 1663.3 L726.7 1646.7 L720.0 1630.0 L715.0 1606.7 L713.3 1586.7 L715.0 1566.7 L713.3 1550.0 L716.7 1538.3 L726.7 1533.3 L746.7 1523.3 L756.7 1513.3 L750.0 1505.0 L733.3 1500.0 L721.7 1493.3 L723.3 1486.7 L720.0 1470.0 L713.3 1465.0 L696.7 1466.7 L680.0 1471.7 L660.0 1475.0 L640.0 1476.7 L626.7 1470.0 L620.0 1456.7 L613.3 1440.0 L606.7 1420.0 L595.0 1405.0 L583.3 1393.3 L563.3 1385.0 L540.0 1376.7 L523.3 1378.3 L508.3 1388.3 L501.7 1400.0 L498.3 1426.7 L486.7 1443.3 L473.3 1460.0 L450.0 1470.0 L416.7 1470.0 L386.7 1466.7 L370.0 1453.3 L365.0 1426.7 L362.3 1400.0 L366.7 1378.3 L386.7 1372.7 L416.7 1371.7 L433.3 1366.7 L446.7 1353.3 L456.7 1333.3 L466.7 1313.3 L486.7 1300.0 L493.3 1297.3 L513.3 1292.7 L526.7 1289.3 L550.0 1283.3 L573.3 1275.0 L593.3 1265.0 L608.3 1255.0 L615.0 1241.7 L621.7 1231.7 L623.3 1223.3 L1189.3 1223.3 Z" fill="#e0e0e0"/>
<path d="M1473.0 1152.7 L1472.2 1185.9 L1473.0 1212.5 L1479.7 1220.4 L1490.3 1225.7 L1506.2 1228.4 L1519.5 1231.0 L1530.1 1237.7 L1539.4 1243.0 L1544.7 1244.3 L1548.7 1254.9 L1556.7 1265.6 L1564.7 1273.5 L1575.3 1278.8 L1591.2 1281.0 L1612.5 1278.8 L1625.7 1270.9 L1631.0 1262.9 L1633.7 1252.3 L1639.0 1244.3 L1652.3 1236.4 L1665.6 1232.4 L1692.1 1228.4 L1705.4 1225.7 L1732.0 1224.4 L1753.2 1223.1 L1771.8 1220.4 L1793.0 1215.1 L1801.0 1212.5 L1806.3 1204.5 L1814.3 1209.8 L1827.6 1220.4 L1840.8 1215.1 L1856.8 1207.1 L1875.4 1196.5 L1891.3 1185.9 L1878.0 1079.7 L1473.0 1079.7 Z" fill="#e0e0e0"/>
<path d="M1419.8 1758.5 L1427.8 1745.2 L1446.4 1739.9 L1467.6 1742.6 L1486.2 1750.6 L1499.5 1763.8 L1496.9 1777.1 L1480.9 1785.1 L1459.7 1791.7 L1441.1 1787.7 L1427.8 1777.1 L1421.2 1767.8 Z" fill="#e0e0e0"/>
<path d="M1071.3 1136.7 C1075.2 1133.9 1084.6 1130.0 1091.3 1126.7 C1098.0 1123.4 1104.6 1119.8 1111.3 1116.7 C1118.0 1113.6 1126.3 1112.8 1131.3 1108.3 C1136.3 1103.8 1138.0 1095.3 1141.3 1090.0 C1144.6 1084.7 1148.0 1079.8 1151.3 1076.7 C1154.6 1073.7 1157.4 1074.2 1161.3 1071.7 C1165.2 1069.2 1169.7 1064.5 1174.7 1061.7 C1179.7 1058.9 1185.2 1056.5 1191.3 1055.0 C1197.4 1053.5 1204.1 1052.4 1211.3 1052.7 C1218.5 1053.0 1228.0 1055.2 1234.7 1056.7 C1241.4 1058.2 1245.8 1059.6 1251.3 1061.7 C1256.8 1063.8 1264.2 1066.2 1268.0 1069.3 C1271.8 1072.3 1273.3 1074.9 1274.0 1080.0 C1274.7 1085.1 1272.2 1094.2 1272.3 1100.0 C1272.4 1105.8 1273.2 1110.0 1274.7 1115.0 C1276.2 1120.0 1278.8 1126.3 1281.3 1130.0 C1283.8 1133.7 1285.2 1135.9 1289.7 1137.3 C1294.2 1138.7 1303.0 1139.5 1308.0 1138.3 C1313.0 1137.1 1316.7 1132.2 1319.7 1130.0 C1322.8 1127.8 1324.1 1128.0 1326.3 1125.0 C1328.5 1122.0 1331.0 1117.0 1333.0 1111.7 C1335.0 1106.4 1336.9 1097.4 1338.0 1093.3 C1339.1 1089.2 1336.4 1088.5 1339.7 1087.3 C1343.0 1086.1 1338.3 1086.2 1358.0 1086.0 C1377.7 1085.8 1446.2 1073.7 1458.0 1086.0 C1469.8 1098.3 1433.6 1136.5 1428.7 1160.0 C1423.8 1183.5 1468.3 1214.7 1428.7 1226.7 C1389.1 1238.7 1231.7 1232.6 1191.3 1232.0 C1150.9 1231.4 1188.5 1226.4 1186.3 1223.3 C1184.1 1220.2 1180.5 1216.6 1178.0 1213.3 C1175.5 1210.0 1173.5 1206.6 1171.3 1203.3 C1169.1 1200.0 1166.9 1195.8 1164.7 1193.3 C1162.5 1190.8 1161.9 1190.2 1158.0 1188.3 C1154.1 1186.4 1146.8 1183.6 1141.3 1181.7 C1135.8 1179.8 1130.8 1178.4 1124.7 1176.7 C1118.6 1175.0 1111.4 1172.8 1104.7 1171.7 C1098.0 1170.6 1089.2 1171.7 1084.7 1170.0 C1080.2 1168.3 1080.5 1164.5 1078.0 1161.7 C1075.5 1158.9 1071.4 1156.4 1069.7 1153.3 C1068.0 1150.2 1067.7 1146.1 1068.0 1143.3 C1068.3 1140.5 1067.4 1139.5 1071.3 1136.7 Z" fill="#fff"/>
<path d="M608.3 1310.0 C610.5 1305.8 615.8 1302.5 620.0 1301.7 C624.2 1300.9 628.8 1302.8 633.3 1305.0 C637.8 1307.2 642.8 1311.1 646.7 1315.0 C650.6 1318.9 654.8 1324.1 656.7 1328.3 C658.6 1332.5 659.1 1336.4 658.3 1340.0 C657.5 1343.6 654.8 1347.8 651.7 1350.0 C648.7 1352.2 644.2 1353.6 640.0 1353.3 C635.8 1353.0 631.2 1350.5 626.7 1348.3 C622.2 1346.1 616.6 1343.6 613.3 1340.0 C610.0 1336.4 607.5 1331.7 606.7 1326.7 C605.9 1321.7 606.1 1314.2 608.3 1310.0 Z" fill="#fff"/>
<path d="M666.7 1280.0 C670.0 1277.0 678.9 1274.5 686.7 1271.7 C694.5 1268.9 705.0 1266.4 713.3 1263.3 C721.6 1260.2 728.9 1256.6 736.7 1253.3 C744.5 1250.0 752.8 1245.6 760.0 1243.3 C767.2 1241.0 771.1 1240.0 780.0 1239.3 C788.9 1238.6 804.4 1238.6 813.3 1239.3 C822.2 1240.0 828.3 1241.0 833.3 1243.3 C838.3 1245.6 840.5 1249.4 843.3 1253.3 C846.1 1257.2 847.2 1261.7 850.0 1266.7 C852.8 1271.7 856.7 1277.2 860.0 1283.3 C863.3 1289.4 866.7 1296.6 870.0 1303.3 C873.3 1310.0 876.1 1317.2 880.0 1323.3 C883.9 1329.4 889.4 1335.0 893.3 1340.0 C897.2 1345.0 900.5 1348.8 903.3 1353.3 C906.1 1357.8 908.6 1358.9 910.0 1366.7 C911.4 1374.5 911.2 1388.9 911.7 1400.0 C912.2 1411.1 912.5 1422.2 913.3 1433.3 C914.1 1444.4 916.7 1457.2 916.7 1466.7 C916.7 1476.2 914.4 1484.5 913.3 1490.0 C912.2 1495.5 909.7 1496.1 910.0 1500.0 C910.3 1503.9 915.0 1508.8 915.0 1513.3 C915.0 1517.8 912.5 1522.8 910.0 1526.7 C907.5 1530.6 905.0 1534.5 900.0 1536.7 C895.0 1538.9 883.9 1540.6 880.0 1540.0 C876.1 1539.4 878.4 1537.2 876.7 1533.3 C875.0 1529.4 873.9 1521.7 870.0 1516.7 C866.1 1511.7 858.0 1505.8 853.3 1503.3 C848.6 1500.8 843.6 1496.7 841.7 1501.7 C839.8 1506.7 841.4 1525.8 841.7 1533.3 C842.0 1540.8 844.7 1543.4 843.3 1546.7 C841.9 1550.0 837.2 1552.8 833.3 1553.3 C829.4 1553.8 824.4 1551.7 820.0 1550.0 C815.6 1548.3 811.2 1545.5 806.7 1543.3 C802.2 1541.1 797.8 1539.5 793.3 1536.7 C788.8 1533.9 783.9 1530.0 780.0 1526.7 C776.1 1523.4 772.8 1520.6 770.0 1516.7 C767.2 1512.8 764.4 1507.8 763.3 1503.3 C762.2 1498.8 762.2 1496.1 763.3 1490.0 C764.4 1483.9 768.3 1473.9 770.0 1466.7 C771.7 1459.5 773.8 1452.3 773.3 1446.7 C772.8 1441.1 770.0 1436.1 766.7 1433.3 C763.4 1430.5 757.8 1429.4 753.3 1430.0 C748.8 1430.6 744.4 1433.9 740.0 1436.7 C735.6 1439.5 731.2 1443.9 726.7 1446.7 C722.2 1449.5 718.3 1451.4 713.3 1453.3 C708.3 1455.2 702.2 1456.9 696.7 1458.3 C691.2 1459.7 685.6 1460.9 680.0 1461.7 C674.4 1462.5 667.2 1464.1 663.3 1463.3 C659.4 1462.5 657.5 1460.0 656.7 1456.7 C655.9 1453.4 656.9 1447.8 658.3 1443.3 C659.7 1438.8 663.6 1437.2 665.0 1430.0 C666.4 1422.8 665.9 1410.5 666.7 1400.0 C667.5 1389.5 668.3 1376.7 670.0 1366.7 C671.7 1356.7 675.0 1348.3 676.7 1340.0 C678.4 1331.7 680.6 1323.4 680.0 1316.7 C679.4 1310.0 675.5 1304.5 673.3 1300.0 C671.1 1295.5 667.8 1293.3 666.7 1290.0 C665.6 1286.7 663.4 1283.0 666.7 1280.0 Z" fill="#c9c9c9"/>
<path d="M728.3 1601.7 C731.9 1599.9 737.8 1599.6 746.7 1599.3 C755.6 1599.0 770.6 1599.6 781.7 1600.0 C792.8 1600.4 803.3 1601.7 813.3 1601.7 C823.3 1601.7 836.8 1605.8 841.7 1600.0 C846.6 1594.2 841.3 1571.7 842.7 1566.7 C844.1 1561.7 846.6 1566.7 850.0 1570.0 C853.4 1573.3 858.8 1582.8 863.3 1586.7 C867.8 1590.6 872.2 1592.8 876.7 1593.3 C881.2 1593.8 886.1 1589.4 890.0 1590.0 C893.9 1590.6 898.0 1592.2 900.0 1596.7 C902.0 1601.2 902.0 1610.6 901.7 1616.7 C901.4 1622.8 901.9 1628.9 898.3 1633.3 C894.7 1637.7 883.0 1638.8 880.0 1643.3 C877.0 1647.8 881.1 1656.1 880.0 1660.0 C878.9 1663.9 876.1 1664.5 873.3 1666.7 C870.5 1668.9 867.7 1671.1 863.3 1673.3 C858.9 1675.5 850.3 1677.8 846.7 1680.0 C843.1 1682.2 842.8 1684.5 841.7 1686.7 C840.6 1688.9 843.1 1691.1 840.0 1693.3 C836.9 1695.5 830.0 1698.9 823.3 1700.0 C816.6 1701.1 806.9 1700.5 800.0 1700.0 C793.1 1699.5 784.8 1702.2 781.7 1696.7 C778.7 1691.2 783.7 1672.0 781.7 1666.7 C779.8 1661.4 774.2 1665.6 770.0 1665.0 C765.8 1664.4 761.2 1664.7 756.7 1663.3 C752.2 1661.9 747.2 1660.6 743.3 1656.7 C739.4 1652.8 736.1 1645.6 733.3 1640.0 C730.5 1634.4 728.1 1628.3 726.7 1623.3 C725.3 1618.3 724.7 1613.6 725.0 1610.0 C725.3 1606.4 724.7 1603.5 728.3 1601.7 Z" fill="#c9c9c9"/>
<path d="M976.7 1303.3 C979.5 1301.1 987.2 1301.1 993.3 1301.7 C999.4 1302.3 1005.5 1305.3 1013.3 1306.7 C1021.1 1308.1 1033.3 1308.3 1040.0 1310.0 C1046.7 1311.7 1048.8 1313.9 1053.3 1316.7 C1057.8 1319.5 1061.1 1322.8 1066.7 1326.7 C1072.3 1330.6 1081.2 1335.0 1086.7 1340.0 C1092.2 1345.0 1096.1 1350.0 1100.0 1356.7 C1103.9 1363.4 1107.8 1372.8 1110.0 1380.0 C1112.2 1387.2 1110.5 1393.9 1113.3 1400.0 C1116.1 1406.1 1121.1 1412.8 1126.7 1416.7 C1132.3 1420.6 1138.9 1421.4 1146.7 1423.3 C1154.5 1425.2 1168.9 1425.5 1173.3 1428.3 C1177.7 1431.1 1174.4 1434.7 1173.3 1440.0 C1172.2 1445.3 1168.9 1453.9 1166.7 1460.0 C1164.5 1466.1 1163.3 1472.8 1160.0 1476.7 C1156.7 1480.6 1151.2 1480.5 1146.7 1483.3 C1142.2 1486.1 1137.8 1490.8 1133.3 1493.3 C1128.8 1495.8 1124.4 1498.3 1120.0 1498.3 C1115.6 1498.3 1111.2 1495.2 1106.7 1493.3 C1102.2 1491.4 1097.8 1489.5 1093.3 1486.7 C1088.8 1483.9 1084.4 1480.6 1080.0 1476.7 C1075.6 1472.8 1071.2 1467.2 1066.7 1463.3 C1062.2 1459.4 1057.8 1456.1 1053.3 1453.3 C1048.8 1450.5 1043.9 1450.0 1040.0 1446.7 C1036.1 1443.4 1032.2 1438.9 1030.0 1433.3 C1027.8 1427.7 1028.4 1418.8 1026.7 1413.3 C1025.0 1407.8 1022.2 1405.5 1020.0 1400.0 C1017.8 1394.5 1015.0 1386.7 1013.3 1380.0 C1011.6 1373.3 1010.5 1366.7 1010.0 1360.0 C1009.5 1353.3 1011.1 1345.5 1010.0 1340.0 C1008.9 1334.5 1008.3 1329.5 1003.3 1326.7 C998.3 1323.9 984.4 1325.2 980.0 1323.3 C975.6 1321.3 977.2 1318.3 976.7 1315.0 C976.2 1311.7 973.9 1305.5 976.7 1303.3 Z" fill="#c9c9c9"/>
<path d="M756.7 1325.0 C761.4 1321.7 773.9 1319.2 780.0 1320.0 C786.1 1320.8 790.0 1325.5 793.3 1330.0 C796.6 1334.5 798.9 1340.6 800.0 1346.7 C801.1 1352.8 801.1 1361.2 800.0 1366.7 C798.9 1372.2 796.6 1376.7 793.3 1380.0 C790.0 1383.3 785.0 1385.6 780.0 1386.7 C775.0 1387.8 767.5 1388.9 763.3 1386.7 C759.1 1384.5 757.2 1378.3 755.0 1373.3 C752.8 1368.3 750.5 1362.2 750.0 1356.7 C749.5 1351.2 750.6 1345.3 751.7 1340.0 C752.8 1334.7 752.0 1328.3 756.7 1325.0 Z" fill="#e0e0e0"/>
<path d="M680.0 1386.7 C682.8 1380.6 688.3 1372.5 693.3 1370.0 C698.3 1367.5 705.5 1368.4 710.0 1371.7 C714.5 1375.0 718.0 1383.1 720.0 1390.0 C722.0 1396.9 722.8 1406.1 721.7 1413.3 C720.6 1420.5 716.4 1427.7 713.3 1433.3 C710.2 1438.9 707.2 1443.4 703.3 1446.7 C699.4 1450.0 693.9 1453.9 690.0 1453.3 C686.1 1452.7 682.3 1447.7 680.0 1443.3 C677.7 1438.9 676.5 1432.8 676.0 1426.7 C675.5 1420.6 676.0 1413.4 676.7 1406.7 C677.4 1400.0 677.2 1392.8 680.0 1386.7 Z" fill="#b0b0b0"/>
<path d="M820.0 1350.0 C823.3 1344.2 828.8 1340.0 833.3 1338.3 C837.8 1336.6 842.2 1338.0 846.7 1340.0 C851.2 1342.0 856.1 1345.5 860.0 1350.0 C863.9 1354.5 866.1 1360.6 870.0 1366.7 C873.9 1372.8 879.4 1378.9 883.3 1386.7 C887.2 1394.5 892.5 1405.5 893.3 1413.3 C894.1 1421.1 890.5 1426.6 888.3 1433.3 C886.1 1440.0 881.9 1446.1 880.0 1453.3 C878.1 1460.5 878.9 1470.6 876.7 1476.7 C874.5 1482.8 870.6 1486.1 866.7 1490.0 C862.8 1493.9 856.9 1498.9 853.3 1500.0 C849.7 1501.1 847.2 1499.5 845.0 1496.7 C842.8 1493.9 842.0 1487.8 840.0 1483.3 C838.0 1478.8 836.6 1475.0 833.3 1470.0 C830.0 1465.0 823.3 1459.4 820.0 1453.3 C816.7 1447.2 815.0 1441.1 813.3 1433.3 C811.6 1425.5 810.0 1416.7 810.0 1406.7 C810.0 1396.7 811.6 1382.8 813.3 1373.3 C815.0 1363.8 816.7 1355.8 820.0 1350.0 Z" fill="#b0b0b0"/>
<path d="M1046.7 1373.3 C1048.1 1368.6 1052.3 1364.2 1056.7 1361.7 C1061.1 1359.2 1068.3 1357.5 1073.3 1358.3 C1078.3 1359.1 1083.4 1362.0 1086.7 1366.7 C1090.0 1371.4 1091.6 1380.0 1093.3 1386.7 C1095.0 1393.4 1094.5 1401.7 1096.7 1406.7 C1098.9 1411.7 1102.8 1413.9 1106.7 1416.7 C1110.6 1419.5 1116.4 1420.5 1120.0 1423.3 C1123.6 1426.1 1126.9 1428.8 1128.3 1433.3 C1129.7 1437.8 1129.7 1446.1 1128.3 1450.0 C1126.9 1453.9 1123.6 1454.8 1120.0 1456.7 C1116.4 1458.7 1111.2 1461.2 1106.7 1461.7 C1102.2 1462.2 1097.2 1462.0 1093.3 1460.0 C1089.4 1458.0 1086.6 1454.5 1083.3 1450.0 C1080.0 1445.5 1076.6 1438.8 1073.3 1433.3 C1070.0 1427.8 1066.6 1421.7 1063.3 1416.7 C1060.0 1411.7 1055.8 1407.8 1053.3 1403.3 C1050.8 1398.8 1049.4 1395.0 1048.3 1390.0 C1047.2 1385.0 1045.3 1378.0 1046.7 1373.3 Z" fill="#b0b0b0"/>
<path d="M786.7 1520.0 C788.1 1517.2 792.3 1512.8 796.7 1511.7 C801.1 1510.6 807.8 1511.9 813.3 1513.3 C818.8 1514.7 825.3 1517.2 830.0 1520.0 C834.7 1522.8 839.2 1526.1 841.7 1530.0 C844.2 1533.9 845.6 1539.4 845.0 1543.3 C844.4 1547.2 841.3 1551.9 838.3 1553.3 C835.2 1554.7 831.4 1553.1 826.7 1551.7 C822.0 1550.3 815.0 1547.5 810.0 1545.0 C805.0 1542.5 800.3 1539.5 796.7 1536.7 C793.1 1533.9 790.0 1531.1 788.3 1528.3 C786.6 1525.5 785.3 1522.8 786.7 1520.0 Z" fill="#b0b0b0"/>
<path d="M838.3 1643.3 C840.0 1639.1 843.1 1635.0 846.7 1630.0 C850.3 1625.0 855.8 1616.5 860.0 1613.3 C864.2 1610.1 868.4 1610.4 871.7 1610.7 C875.0 1611.0 878.6 1611.2 880.0 1615.0 C881.4 1618.8 880.3 1628.0 880.0 1633.3 C879.7 1638.6 880.0 1642.8 878.3 1646.7 C876.6 1650.6 873.6 1654.5 870.0 1656.7 C866.4 1658.9 861.2 1659.5 856.7 1660.0 C852.2 1660.5 846.6 1660.8 843.3 1660.0 C840.0 1659.2 837.5 1657.8 836.7 1655.0 C835.9 1652.2 836.6 1647.5 838.3 1643.3 Z" fill="#b0b0b0"/>
<path d="M153.3 922.7 L190.0 925.0 M218.3 956.7 L216.0 976.7 L221.7 993.3 L213.3 1005.0 L201.7 1010.0 M216.0 977.3 L280.0 981.7 L288.3 983.3 L290.0 989.3 L320.0 992.7 M281.7 956.7 L280.0 981.7 M311.7 948.3 L310.0 970.0 L322.7 971.7 L320.0 1010.0 L318.3 1043.3 M230.0 1036.7 L318.3 1044.0 M306.7 1045.0 L303.3 1090.0 L306.7 1095.0 L346.7 1095.0 L376.7 1108.3 L408.3 1120.0 M321.7 1010.0 L413.3 1014.0 L510.0 1019.3 M420.0 931.7 L417.3 966.7 L413.3 1014.0 L411.7 1066.7 L407.3 1133.3 M417.3 966.7 L453.3 969.0 M458.3 903.3 L453.3 969.0 M513.3 948.3 L509.3 1019.3 M510.0 1006.7 L628.3 1011.7 M472.7 1019.3 L471.7 1052.7 L470.0 1064.0 L458.3 1065.0 L458.3 1071.7 L436.7 1070.0 L412.7 1066.7 M472.7 1052.7 L625.0 1059.0 M483.3 1055.0 L477.3 1136.7 M553.3 1057.3 L549.3 1139.3 M407.3 1133.3 L513.3 1140.0 L622.7 1143.3 M513.3 1140.0 L508.3 1223.3 M261.7 1090.0 L276.7 1086.7 L278.3 1090.0 L291.7 1075.0 L295.0 1083.3 L303.3 1090.0 M376.7 1109.3 L363.3 1120.0 L353.3 1140.0 L340.0 1150.0 L333.3 1160.0 L303.3 1164.0 L289.3 1174.0 M286.0 1175.0 L285.0 1212.7 M408.3 1224.0 L403.3 1326.7 L402.7 1331.7 L426.7 1334.0 L426.0 1345.0 L473.3 1348.3 L469.3 1393.3 L467.3 1422.7 M260.0 1312.7 L310.0 1316.7 L310.0 1321.7 L356.7 1325.7 L403.3 1326.7 M356.7 1325.7 L360.0 1340.0 L366.7 1360.0 L360.0 1376.7 L360.0 1383.3 M233.3 1366.7 L256.7 1368.3 L286.7 1380.7 L360.0 1383.3 L403.3 1385.0 L423.3 1422.7 M470.0 1396.0 L503.3 1397.3 M679.3 1023.3 L681.7 1180.0 L675.0 1230.0 M726.0 1025.0 L729.3 1181.7 L728.3 1230.0 M773.3 1016.7 L773.3 1061.7 M820.0 1013.3 L821.7 1063.3 M629.0 1059.0 L680.0 1060.0 L857.7 1064.0 M628.3 1130.0 L681.7 1131.7 L775.0 1134.3 M626.7 1178.3 L676.7 1179.3 L776.7 1181.7 M823.3 1063.3 L820.0 1098.3 L774.0 1098.3 L776.7 1168.3 L776.7 1230.0 M823.3 1098.3 L821.7 1168.3 M823.3 1109.3 L857.7 1109.3 M776.0 1168.3 L857.7 1171.7 M833.3 1171.7 L836.0 1196.7 L833.3 1230.0 M625.0 1233.3 L620.0 1293.3 M742.7 1236.7 L739.3 1297.3 M845.0 1290.0 L857.7 1290.0 M607.3 1300.0 L603.3 1422.7 M666.7 1301.7 L663.3 1422.7 M724.3 1303.3 L722.7 1422.7 M785.0 1305.0 L782.7 1422.7 M510.0 1355.0 L603.3 1359.3 L840.0 1363.3 M508.3 1412.7 L603.3 1416.0 L839.3 1422.7 M891.3 1025.0 L889.7 1063.3 L893.0 1090.0 L894.7 1136.7 L893.0 1173.3 L894.7 1233.3 M948.7 1023.3 L949.7 1063.3 L963.0 1065.0 L962.0 1100.0 L951.3 1101.7 L953.0 1233.3 M1009.0 1013.3 L1009.7 1076.7 L1011.3 1136.7 L1012.0 1183.3 L1023.0 1185.0 L1024.7 1233.3 M1068.7 1046.7 L1068.7 1075.0 M1093.0 1076.7 L1094.0 1135.0 L1081.3 1136.0 L1084.7 1231.7 M1127.3 1020.0 L1127.3 1074.0 M1151.3 1075.0 L1154.7 1230.0 M1186.3 1026.7 L1183.0 1060.0 L1184.7 1084.0 M1234.7 986.7 L1237.3 1084.0 M1218.7 1086.0 L1223.0 1228.3 M1278.7 1033.3 L1280.7 1090.0 L1282.0 1130.0 L1283.0 1178.3 L1284.7 1226.7 M1326.3 1073.3 L1328.0 1126.7 L1330.7 1176.7 L1332.0 1226.0 M1375.3 1126.7 L1378.0 1176.7 L1380.7 1225.0 M891.3 1051.7 L948.7 1051.7 M858.0 1063.3 L889.7 1063.3 M949.7 1063.3 L1009.7 1064.0 M1009.7 1076.7 L1038.0 1078.3 L1093.0 1076.0 L1151.3 1074.0 M1009.7 1028.3 L1044.7 1030.0 M893.0 1089.3 L916.3 1088.7 L916.3 1099.3 L962.0 1099.3 M858.0 1110.7 L891.3 1111.7 M953.0 1123.3 L1010.7 1123.3 M894.0 1136.0 L951.3 1136.7 M1011.3 1136.0 L1094.0 1135.0 M1094.0 1110.7 L1151.3 1109.3 M1153.0 1086.7 L1218.7 1086.0 L1237.3 1084.0 M1237.3 1071.7 L1278.7 1070.7 M1173.0 1025.0 L1234.7 1024.3 M1230.7 993.3 L1248.0 994.0 M858.0 1171.7 L893.0 1172.7 M953.0 1171.7 L1011.3 1171.7 M894.7 1182.7 L953.0 1182.7 M1012.0 1183.3 L1081.3 1181.7 M1084.0 1170.7 L1153.0 1169.3 L1219.7 1166.7 M1221.3 1148.3 L1281.3 1146.7 M1223.0 1191.7 L1283.0 1188.3 M1280.7 1090.0 L1326.3 1088.3 L1358.0 1086.7 M1282.0 1130.0 L1328.0 1127.7 L1373.0 1126.0 M1284.0 1178.3 L1330.7 1176.0 L1378.0 1174.0 M1379.7 1180.7 L1426.3 1178.3 M1429.7 1175.0 L1488.0 1173.3 M1431.3 1216.0 L1489.7 1214.0 M1433.0 1256.7 L1491.3 1256.0 M1486.3 1166.7 L1489.7 1214.0 L1493.0 1286.7 M1488.0 1181.7 L1496.3 1180.7 M1541.3 1216.7 L1543.0 1241.7 L1546.3 1285.0 M1491.3 1229.3 L1541.3 1227.7 M1541.3 1218.3 L1569.7 1217.3 L1573.0 1241.7 L1585.7 1241.7 M1546.3 1203.3 L1585.7 1201.7 M1002.0 1232.7 L1004.7 1316.7 M1049.7 1231.7 L1052.0 1346.7 M1120.7 1230.3 L1123.0 1346.7 M1279.7 1227.3 L1283.0 1343.3 M1301.3 1226.7 L1304.7 1341.7 M1342.0 1226.0 L1345.3 1281.7 M1388.0 1225.0 L1391.3 1338.3 M904.0 1234.0 L911.3 1248.3 L919.7 1255.0 L924.7 1264.0 L938.0 1265.0 L948.0 1276.7 L956.3 1288.3 L958.0 1301.7 L973.0 1303.3 L984.7 1311.7 L994.7 1318.3 L1004.7 1315.0 M921.3 1260.0 L921.3 1290.0 L858.0 1290.0 M888.0 1291.7 L888.0 1348.3 M957.3 1290.0 L958.0 1347.3 M888.0 1348.3 L1052.0 1348.3 L1134.7 1347.3 L1158.0 1346.7 L1158.0 1336.7 L1191.3 1335.0 L1193.0 1346.7 L1214.7 1346.0 L1254.7 1343.3 L1283.0 1343.3 M1004.7 1308.3 L1049.7 1308.3 M1052.0 1290.0 L1120.7 1288.3 L1164.7 1286.7 M1197.3 1229.3 L1198.7 1261.7 L1188.0 1266.0 L1179.7 1268.3 L1178.0 1275.0 L1166.3 1275.0 L1168.0 1288.3 L1183.0 1290.0 L1178.0 1296.7 L1169.7 1300.0 L1169.7 1325.0 L1179.7 1325.0 L1181.3 1335.0 M1173.0 1303.3 L1188.0 1300.0 L1198.0 1291.7 L1203.0 1303.3 L1211.3 1310.0 L1221.3 1316.7 L1223.0 1325.0 L1231.3 1323.3 L1238.0 1330.0 L1254.7 1336.7 L1253.0 1343.3 M1283.0 1308.3 L1303.0 1308.3 M1303.0 1284.0 L1354.7 1281.7 L1355.3 1292.7 L1343.0 1293.3 L1345.3 1351.7 M1343.0 1293.3 L1388.0 1291.7 M1391.3 1270.7 L1429.7 1268.3 M1304.7 1341.7 L1324.7 1341.7 L1331.3 1353.3 L1378.0 1351.7 L1379.7 1340.0 L1438.0 1338.3 M1308.0 1345.0 L1309.7 1380.0 L1304.7 1383.3 M1597.8 1180.6 L1599.2 1203.2 M1585.9 1204.5 L1615.1 1203.2 L1704.1 1200.5 L1751.9 1197.8 M1616.4 1203.2 L1618.3 1239.0 M1572.1 1241.7 L1618.3 1239.0 L1705.4 1235.0 M1633.7 1240.3 L1635.8 1277.5 M1705.4 1201.3 L1707.5 1235.0 L1705.4 1239.0 L1707.5 1273.5 M1750.0 1148.7 L1753.2 1197.8 L1754.5 1231.0 L1752.7 1233.7 L1757.2 1269.6 M1735.9 1127.5 L1738.6 1146.6 L1795.7 1143.4 M1797.0 1132.3 L1798.4 1144.7 L1803.7 1164.7 L1810.3 1172.6 L1819.6 1177.9 L1822.3 1184.6 M1799.7 1188.6 L1822.3 1185.9 L1827.6 1185.9 L1828.1 1190.7 L1848.8 1189.1 M1799.7 1188.6 L1802.3 1224.4 L1813.0 1224.4 L1815.6 1265.6 M1755.9 1220.4 L1801.0 1216.4 M1813.0 1224.4 L1867.4 1221.0 M1842.2 1116.9 L1844.8 1138.1 L1848.8 1159.3 L1847.5 1175.3 L1850.1 1188.6 L1856.8 1204.5 L1864.7 1217.8 L1870.1 1236.4 L1878.0 1260.3 M1806.3 1118.2 L1840.8 1114.2 M1862.1 1205.8 L1878.0 1204.0 M1785.1 1126.1 L1797.0 1131.5 M1572.6 1241.7 L1575.3 1288.1 M1515.5 1290.8 L1516.9 1314.7 L1518.2 1324.0 L1500.9 1324.5 L1500.9 1329.3 L1466.4 1330.1 L1465.9 1338.6 L1459.8 1339.4 L1460.5 1345.2 L1447.3 1346.6 M1516.9 1314.7 L1538.1 1313.9 L1542.1 1317.4 L1544.7 1328.0 L1548.7 1333.3 L1554.0 1337.3 L1580.6 1335.1 L1619.1 1334.1 M1576.6 1288.1 L1580.6 1335.1 M1623.1 1286.3 L1625.7 1333.3 L1631.0 1334.1 L1633.2 1339.9 L1677.5 1337.8 M1662.9 1284.2 L1662.9 1294.8 L1656.3 1298.8 L1661.6 1302.7 L1658.9 1305.4 L1665.6 1310.7 L1669.6 1318.7 L1676.2 1324.0 L1678.8 1332.0 L1680.2 1350.6 L1682.0 1385.1 M1704.1 1281.5 L1705.4 1308.1 L1704.9 1318.7 L1700.1 1322.7 L1701.4 1334.6 L1692.1 1337.3 L1691.6 1349.2 L1681.0 1351.1 M1705.9 1308.6 L1770.5 1304.9 L1770.5 1294.3 L1782.4 1293.5 L1781.9 1274.9 M1757.2 1308.1 L1759.8 1324.0 L1761.2 1339.9 L1755.9 1341.3 L1757.2 1349.2 M1701.4 1328.0 L1709.4 1330.6 L1717.4 1339.9 L1713.4 1345.2 L1714.7 1353.2 L1722.7 1351.9 L1728.0 1350.6 L1737.3 1357.2 L1743.9 1358.5 L1753.2 1349.2 L1785.1 1347.4 L1786.4 1353.2 L1830.2 1351.1 M1794.4 1305.4 L1797.0 1351.9 M1795.7 1305.4 L1810.3 1304.9 L1824.9 1317.4 L1828.9 1313.4 L1846.2 1313.4 M1787.7 1274.9 L1798.4 1286.8 L1803.7 1292.1 L1803.7 1302.7 L1810.3 1304.9 M1854.1 1269.6 L1859.4 1281.5 L1860.8 1294.8 M1742.6 1358.5 L1741.3 1370.5 L1745.2 1377.1 L1745.2 1382.4 M1682.0 1385.1 L1751.9 1381.1 L1753.2 1405.0 L1750.6 1415.6 L1746.6 1416.9 L1747.9 1428.9 L1678.8 1433.4 L1677.5 1448.0 M1701.4 1385.6 L1704.1 1430.2 M1813.0 1353.2 L1810.3 1361.2 L1803.7 1369.1 L1798.4 1377.1 L1802.3 1385.1 L1798.4 1389.1 L1798.4 1401.0 L1753.2 1405.0 M1775.8 1403.7 L1777.1 1414.3 L1809.0 1412.2 M1562.0 1337.3 L1566.0 1342.6 L1566.0 1355.9 L1560.7 1359.8 L1559.3 1371.8 L1557.2 1377.1 L1560.7 1390.4 L1620.4 1387.7 L1657.1 1385.6 L1657.1 1376.6 L1680.2 1374.5 M1619.1 1335.1 L1623.1 1387.7 M1514.2 1325.3 L1510.2 1342.6 L1509.4 1371.8 L1511.5 1387.7 M1454.4 1391.7 L1511.5 1388.3 L1518.2 1390.4 L1559.3 1386.4 M1518.2 1390.4 L1510.2 1395.7 L1508.9 1403.7 L1499.6 1404.2 L1498.8 1415.6 L1504.9 1416.9 L1503.6 1427.6 L1500.4 1431.5 L1500.9 1448.0 M1539.4 1387.7 L1542.1 1435.5 L1540.8 1448.0 M1599.2 1389.1 L1599.7 1405.0 L1592.5 1406.3 L1592.5 1423.6 L1587.2 1424.9 L1587.2 1448.0 M1637.7 1387.7 L1639.0 1411.6 L1635.8 1413.0 L1636.4 1448.0 M1636.4 1422.3 L1678.3 1420.9 L1678.8 1433.4 M1528.8 1431.5 L1532.8 1439.5 L1543.4 1436.9 L1551.4 1438.2 L1559.3 1435.5 L1570.0 1431.5 L1573.9 1440.8 L1585.9 1443.5 M1459.7 1431.9 L1469.0 1435.9 L1472.9 1445.1 L1480.9 1448.3 L1488.9 1443.8 L1491.5 1433.2 L1499.5 1431.9 M1498.2 1404.0 L1500.8 1405.3 L1500.0 1413.3 L1504.3 1414.6 L1503.5 1426.6 L1499.5 1431.9 L1501.6 1463.7 L1506.1 1463.7 M1506.1 1463.7 L1518.1 1461.1 L1518.1 1449.1 L1528.7 1448.3 L1529.2 1433.2 L1532.7 1439.8 L1539.3 1441.2 M1540.7 1400.0 L1541.5 1437.2 L1550.0 1435.9 L1555.3 1437.2 L1563.2 1433.2 L1569.9 1430.5 L1573.9 1438.5 L1577.8 1442.5 L1585.8 1443.8 M1592.5 1400.0 L1593.8 1405.3 L1600.4 1405.8 L1599.9 1413.3 L1593.8 1414.6 L1593.8 1423.9 L1587.1 1424.4 L1586.6 1442.5 L1591.1 1446.5 L1591.1 1458.4 L1569.9 1461.1 L1563.2 1467.7 L1543.3 1471.2 M1494.2 1479.7 L1495.5 1473.0 L1506.1 1471.7 L1506.9 1463.7 M1463.7 1500.9 L1486.2 1498.8 L1486.2 1491.6 L1482.2 1485.0 L1494.2 1479.7 L1494.7 1486.3 L1503.5 1489.0 L1543.3 1487.6 M1543.3 1471.2 L1546.0 1519.5 M1591.1 1446.5 L1600.4 1450.5 L1607.1 1461.1 L1613.7 1469.0 L1617.7 1474.4 L1605.7 1487.6 L1592.5 1503.6 L1589.8 1506.2 L1592.5 1515.5 M1613.7 1462.4 L1620.3 1463.2 L1637.6 1461.6 L1634.9 1421.2 L1636.3 1410.6 L1640.3 1409.3 L1640.3 1400.0 M1617.7 1474.4 L1624.3 1466.4 L1629.6 1463.7 M1617.7 1475.7 L1656.2 1473.8 L1664.2 1470.4 L1672.1 1469.0 L1676.1 1463.7 L1677.4 1458.4 L1673.5 1451.8 L1678.8 1443.8 L1678.8 1433.2 M1636.3 1422.6 L1677.4 1420.7 L1678.8 1433.2 L1717.3 1431.3 L1721.3 1457.1 M1702.7 1400.0 L1704.0 1431.3 M1717.3 1431.3 L1747.8 1428.7 L1747.8 1417.3 L1753.1 1415.9 L1753.1 1405.3 L1799.6 1402.7 M1775.7 1405.3 L1777.0 1414.6 L1808.9 1412.7 M1804.9 1414.6 L1802.3 1421.2 L1794.3 1425.2 L1796.9 1434.5 L1804.9 1437.2 M1672.1 1469.0 L1668.1 1479.7 L1669.5 1485.0 L1676.1 1489.0 L1682.7 1491.6 L1685.4 1502.2 M1650.9 1502.2 L1650.9 1496.9 L1661.5 1495.6 L1662.0 1492.4 L1674.8 1490.3 M1686.7 1492.4 L1700.0 1491.6 M1672.1 1516.9 L1685.4 1530.1 L1694.7 1531.5 L1698.7 1538.1 L1710.6 1538.1 L1710.6 1548.7 L1735.9 1547.4 M1735.9 1527.5 L1737.2 1547.4 M1685.4 1534.1 L1697.4 1544.7 L1709.3 1548.7 M1717.3 1550.0 L1718.6 1559.3 M1486.2 1580.6 L1515.4 1579.3 M1486.2 1580.6 L1488.9 1603.2 M1466.3 1604.5 L1506.1 1602.4 L1508.8 1620.4 L1511.5 1639.0 L1518.1 1651.0 L1523.4 1654.9 L1524.7 1661.6 M1467.6 1637.7 L1474.3 1639.0 L1476.9 1645.7 L1483.6 1651.0 L1494.2 1654.9 L1507.5 1657.1 L1515.4 1658.9 L1516.8 1662.9 L1538.0 1661.6 L1539.3 1652.3 M1523.4 1661.6 L1523.4 1670.9 L1534.0 1676.2 L1539.3 1685.5 L1546.0 1693.5 L1553.9 1696.1 L1579.2 1694.8 L1578.6 1676.2 M1524.7 1688.1 L1534.0 1685.5 L1536.7 1681.5 M1550.0 1697.4 L1555.3 1709.4 L1557.9 1718.7 L1553.9 1729.3 L1555.3 1739.9 L1544.7 1743.9 L1540.7 1749.2 L1543.3 1755.9 M1580.5 1676.2 L1581.8 1700.1 L1605.7 1698.8 M1592.5 1701.4 L1587.1 1725.3 L1581.8 1726.1 L1583.2 1755.9 M1543.3 1762.5 L1547.3 1771.8 L1546.0 1782.4 L1550.0 1790.4 L1547.3 1798.4 L1551.3 1809.0 L1555.3 1819.6 L1556.6 1827.6 L1563.2 1835.5 L1567.2 1848.0 M1577.8 1761.2 L1581.8 1770.5 L1587.1 1779.8 L1585.8 1790.4 L1589.8 1801.0 L1592.5 1824.9 L1595.1 1848.0 M1609.7 1759.8 L1613.7 1798.4 L1619.0 1797.0 L1623.0 1814.3 L1625.7 1832.9 L1615.0 1835.5 L1613.7 1840.8 L1596.4 1843.5 M1620.3 1761.2 L1621.7 1777.1 L1628.3 1787.7 M1623.0 1814.3 L1648.2 1813.0 M1434.4 1676.2 L1438.4 1724.0 M1380.0 1717.4 L1394.6 1714.7 L1406.6 1715.5 L1421.2 1714.7 L1429.1 1717.4 L1430.5 1722.7 L1443.7 1725.3 L1450.4 1732.0 L1459.7 1729.3 L1470.3 1726.6 L1480.9 1730.6 L1495.5 1732.0 L1496.9 1725.3 L1514.1 1723.5 M1394.6 1716.0 L1396.5 1774.5 M1429.1 1718.7 L1433.1 1771.8 M1447.7 1732.0 L1451.2 1782.4 M1380.0 1774.5 L1392.0 1775.0 L1392.7 1767.8 L1401.2 1759.8 L1415.9 1758.0 L1426.5 1767.8 L1437.1 1778.4 L1443.7 1782.4 L1447.7 1790.4 L1446.4 1795.7 L1467.6 1807.6 L1486.2 1805.0 L1496.9 1799.7 L1504.8 1803.7 L1510.1 1799.7 L1518.1 1803.7 M1393.3 1782.4 L1443.7 1781.1 L1518.1 1779.2 M1392.0 1775.0 L1394.6 1798.4 M1443.7 1782.4 L1446.4 1824.9 M1437.1 1816.9 L1445.1 1814.3 M1567.1 1847.9 L1572.7 1850.4 L1577.8 1856.6 L1586.1 1862.8 L1589.1 1864.8 M1594.3 1840.1 L1596.4 1848.4 L1594.3 1856.6 L1597.4 1862.8 M1574.7 1864.8 L1621.1 1862.8 L1623.1 1871.0 L1627.3 1875.1 L1630.4 1885.5 L1627.3 1895.8 L1632.4 1897.8 L1619.0 1899.9 L1619.0 1908.1 L1612.8 1911.2 L1607.7 1910.2 L1604.6 1904.0 L1601.5 1899.9 L1595.3 1896.8 L1590.2 1889.6 L1584.0 1882.4 L1586.1 1873.1 L1577.8 1869.0 L1573.7 1865.9 M1540.7 1867.9 L1555.1 1851.5 L1561.3 1853.5 L1569.6 1856.6 L1573.7 1862.8 M1627.3 1874.1 L1652.0 1872.7 M1654.1 1879.3 L1659.2 1889.6 L1660.2 1901.9 L1657.1 1912.2 L1653.0 1913.3 L1654.1 1918.4 L1651.0 1928.7 L1653.0 1937.0 L1657.1 1938.0 L1661.3 1944.2 L1670.5 1946.2 L1676.7 1951.4 L1682.9 1957.6 L1688.1 1959.6 L1687.0 1965.8 L1689.1 1971.0 M1652.0 1932.4 L1693.2 1928.7 M1596.4 1906.1 L1595.3 1918.4 L1598.4 1933.9 L1609.8 1933.9 L1611.8 1956.5 L1623.1 1957.2 L1624.8 1980.2 M1598.4 1940.1 L1607.7 1943.1 L1610.8 1955.5 M1611.8 1960.7 L1617.0 1965.8 L1619.0 1978.2 M1682.9 1958.6 L1671.6 1967.9 L1672.6 1978.2 L1677.8 1994.7 M1702.5 1972.0 L1707.6 1969.9 L1717.9 1976.1 M469.3 1423.0 L466.7 1441.7 L440.0 1442.7 L437.3 1462.7 L413.3 1460.7 L413.3 1456.7 L383.3 1470.0 M430.0 1436.7 L439.3 1436.7 L440.0 1442.7 M423.3 1422.7 L430.0 1436.7 M330.0 1460.7 L383.3 1463.3 L382.7 1491.7 M475.0 1501.7 L498.3 1503.3 M475.0 1501.7 L476.0 1513.3 L463.3 1515.0 L462.7 1525.0 L451.7 1526.7 L450.0 1538.3 M506.0 1473.3 L600.0 1476.7 L720.0 1480.0 L839.3 1481.7 M504.0 1531.7 L598.3 1534.0 L718.3 1537.3 L840.0 1540.0 M603.3 1422.7 L598.3 1534.0 M661.7 1422.7 L659.3 1536.7 M721.7 1422.7 L719.3 1537.3 M782.7 1422.7 L781.7 1538.3 M558.3 1535.0 L558.3 1556.7 M618.3 1537.3 L616.7 1576.7 M676.7 1538.3 L675.0 1595.0 M736.0 1540.0 L733.3 1596.7 M795.0 1540.7 L793.3 1596.7 M675.0 1595.0 L733.3 1596.7 L840.0 1598.3 M724.0 1598.3 L721.7 1661.7 M782.7 1598.3 L780.7 1700.0 M721.7 1661.7 L780.7 1662.7 L833.3 1661.7 M840.0 1663.3 L840.0 1696.7 M911.7 1350.0 L913.3 1490.0 M993.3 1350.0 L996.7 1525.0 M1041.7 1350.0 L1042.7 1408.3 M1099.3 1348.3 L1100.7 1546.7 M1158.3 1373.3 L1161.7 1513.3 M845.0 1385.0 L853.3 1380.0 L858.3 1370.0 L863.3 1370.0 L866.7 1381.7 L875.0 1390.0 L885.0 1391.7 L893.3 1385.0 L898.3 1373.3 L910.0 1368.3 M843.3 1448.3 L889.3 1447.3 L890.0 1437.3 L912.7 1437.3 M913.3 1396.7 L993.3 1396.0 M915.0 1444.0 L995.0 1443.3 M913.3 1491.7 L980.0 1492.7 L995.0 1490.0 M995.0 1430.0 L1029.3 1431.7 L1029.3 1408.3 L1099.3 1407.3 L1158.3 1406.0 M1030.0 1431.7 L1030.7 1455.0 L1053.3 1455.0 L1100.7 1458.3 L1158.3 1454.0 M1053.3 1456.7 L1056.0 1548.3 M1066.7 1455.0 L1080.0 1458.3 L1100.0 1460.0 L1110.0 1466.7 L1115.0 1476.7 L1130.0 1486.7 L1135.0 1496.7 L1138.3 1510.0 L1153.3 1513.3 L1176.7 1515.0 L1183.3 1510.0 L1196.7 1511.7 L1207.7 1520.0 M866.7 1490.0 L910.0 1491.7 M866.7 1490.0 L865.0 1501.7 L853.3 1502.7 L855.0 1513.3 L871.7 1514.0 L873.3 1525.0 L878.3 1538.3 L878.3 1571.7 M843.3 1502.7 L853.3 1502.7 M878.3 1541.7 L903.3 1541.7 L905.0 1533.3 L916.7 1530.0 L925.0 1528.3 M910.0 1493.3 L915.0 1506.7 L917.3 1520.0 L923.3 1528.3 L933.3 1525.0 L935.0 1536.7 L941.7 1546.7 L945.0 1550.0 L943.3 1558.3 L933.3 1566.7 L928.3 1583.3 M945.0 1558.3 L973.3 1560.0 M973.3 1526.7 L1053.3 1524.0 L1099.3 1522.7 L1183.3 1520.0 M973.3 1526.7 L974.0 1572.7 L991.7 1573.3 L992.7 1585.0 L1008.3 1586.0 L1009.3 1580.0 L1036.7 1578.3 L1046.7 1572.7 M1048.3 1548.3 L1113.3 1547.3 L1115.0 1571.7 M1048.3 1548.3 L1051.7 1620.0 M996.7 1586.7 L998.3 1616.7 M1051.7 1601.7 L1115.0 1601.7 M1115.0 1571.7 L1117.3 1643.3 M1117.3 1630.0 L1183.3 1628.3 M1115.0 1570.0 L1160.0 1568.3 L1161.7 1560.0 L1155.0 1556.7 L1171.7 1553.3 L1183.3 1552.7 M1183.3 1510.0 L1185.0 1558.3 L1196.7 1559.3 L1196.7 1568.3 L1207.7 1568.3 M1138.3 1573.3 L1139.3 1588.3 L1175.0 1589.3 L1176.0 1593.3 L1186.7 1593.3 L1188.3 1566.7 M1185.0 1593.3 L1186.7 1646.7 M1181.7 1615.0 L1207.7 1614.0 M841.7 1563.3 L836.7 1610.0 L835.0 1661.7 M836.7 1610.0 L846.7 1618.3 L863.3 1626.7 L880.0 1630.0 L896.7 1632.7 M899.3 1593.3 L898.3 1688.3 M835.0 1661.7 L853.3 1663.3 L873.3 1666.7 L890.0 1670.0 L898.3 1675.0 M841.7 1663.3 L840.0 1693.3 M898.3 1663.3 L958.3 1664.0 L1016.7 1663.3 M958.3 1618.3 L960.0 1716.7 M1016.7 1630.0 L1018.3 1705.0 M1066.7 1646.7 L1070.0 1696.7 M1068.3 1660.0 L1125.0 1665.0 L1126.7 1676.7 M1125.0 1665.0 L1123.3 1655.0 M1214.1 1347.9 L1215.7 1415.7 L1217.2 1446.5 M1251.1 1346.3 L1251.1 1355.6 L1280.3 1356.5 L1281.9 1384.8 M1263.4 1386.4 L1308.1 1384.8 L1311.2 1372.5 L1308.1 1344.8 L1323.5 1342.3 L1331.2 1352.5 L1380.5 1351.0 L1381.4 1341.1 L1415.9 1340.2 L1439.0 1338.6 M1308.1 1384.8 L1311.2 1401.8 L1315.8 1403.3 L1317.3 1424.9 L1357.4 1424.3 L1358.9 1454.2 M1263.4 1386.4 L1266.5 1426.4 L1277.3 1428.0 L1278.8 1449.5 L1300.4 1448.9 L1301.3 1438.8 L1306.5 1437.2 L1305.0 1426.4 L1317.3 1425.5 M1217.2 1417.2 L1264.9 1415.7 M1237.2 1440.3 L1238.8 1486.5 L1232.6 1487.1 L1234.1 1514.2 M1200.2 1449.5 L1221.8 1446.5 L1226.4 1441.8 L1237.2 1439.7 M1200.2 1449.5 L1201.8 1511.2 M1238.8 1463.4 L1289.6 1461.9 M1288.0 1451.1 L1290.2 1480.3 M1290.2 1480.3 L1300.4 1477.3 L1311.2 1472.6 L1323.5 1468.0 L1332.7 1464.9 L1342.0 1458.8 L1354.3 1457.2 L1366.6 1461.9 L1374.3 1455.7 L1382.0 1446.5 L1389.7 1437.2 L1382.0 1428.0 L1382.0 1387.9 L1369.7 1387.3 L1368.1 1381.8 L1363.5 1372.5 L1369.7 1360.2 L1372.8 1352.5 M1323.5 1387.9 L1326.6 1394.1 L1338.9 1392.5 L1354.3 1389.5 L1369.7 1387.3 M1389.7 1437.2 L1400.5 1443.4 L1409.7 1448.0 L1419.0 1446.5 L1428.2 1451.1 L1437.5 1455.7 L1446.7 1452.6 L1455.9 1454.2 M1382.0 1412.0 L1417.4 1409.5 L1454.4 1407.9 M1415.9 1340.2 L1418.4 1409.5 M1348.1 1461.9 L1349.7 1477.3 L1358.9 1477.3 L1360.4 1492.7 L1342.0 1495.7 L1343.5 1542.0 M1360.4 1491.1 L1406.7 1489.0 L1408.2 1503.5 L1399.0 1505.0 L1400.5 1517.3 L1393.7 1518.9 L1394.9 1541.3 M1406.7 1489.6 L1409.7 1471.1 L1419.0 1469.6 L1417.4 1452.6 M1289.6 1481.9 L1278.8 1491.1 L1277.3 1532.7 L1279.7 1566.6 L1272.6 1568.1 L1273.6 1580.5 L1232.6 1582.0 L1231.1 1546.6 L1243.4 1545.0 L1241.8 1514.2 L1234.1 1514.2 M1243.4 1534.3 L1277.3 1532.7 M1184.2 1511.2 L1184.8 1558.9 L1197.2 1559.8 L1197.2 1569.7 L1231.1 1569.7 M1184.8 1511.2 L1200.2 1514.2 L1206.4 1521.9 L1212.6 1514.2 L1224.9 1517.3 L1231.1 1520.4 L1240.3 1514.2 M1278.8 1546.6 L1303.5 1545.0 L1305.0 1555.8 L1343.5 1554.3 L1345.0 1542.0 L1394.9 1541.3 L1409.7 1540.4 L1410.4 1563.5 L1460.6 1562.0 M1314.2 1568.1 L1326.6 1567.2 L1327.2 1557.4 M1314.2 1568.1 L1317.3 1614.4 M1397.4 1565.1 L1399.0 1600.5 L1386.6 1602.0 L1388.2 1639.0 M1243.4 1583.5 L1245.8 1617.4 M1229.5 1623.6 L1240.3 1622.1 L1241.8 1617.4 L1297.3 1615.9 L1317.3 1614.4 L1386.6 1612.8 M1297.3 1616.5 L1300.4 1643.6 L1308.1 1652.9 M1186.4 1595.9 L1184.8 1615.9 L1217.2 1615.3 L1229.5 1623.6 L1229.5 1629.8 L1221.8 1635.9 L1226.4 1646.7 M1251.1 1680.6 L1252.6 1719.7 M1308.1 1659.0 L1311.2 1719.7 M1369.7 1652.9 L1374.3 1719.7 M1434.4 1674.4 L1437.5 1719.7 M1311.2 1705.2 L1338.9 1708.3 L1354.3 1712.9 L1369.7 1717.6 M1374.3 1717.6 L1400.5 1714.5 L1425.1 1715.1 L1437.5 1719.7 M1454.4 1407.9 L1459.0 1434.1 M1309.3 1720.0 L1310.0 1750.0 M1372.7 1720.0 L1375.0 1765.0 M1270.0 1723.3 L1309.3 1716.7 M1310.0 1740.0 L1323.3 1730.0 L1340.0 1723.3 L1370.0 1720.0 L1380.7 1718.7 M1315.0 1710.0 L1330.0 1706.0 L1346.7 1710.0 L1363.3 1716.7 L1372.7 1719.3" fill="none" stroke="#000" stroke-width="2.8" stroke-linejoin="round"/>
<path d="M273.0 1213.0 L400.0 1221.0 L516.7 1228.3 L623.3 1232.0 L740.0 1235.0 L858.0 1236.0 L1000.0 1234.5 L1191.0 1230.7 L1300.0 1228.0 L1428.0 1225.0 M628.3 1003.0 L623.3 1232.0 M516.7 1228.3 L512.0 1293.5 M512.0 1293.5 L700.0 1298.5 L843.3 1303.0 M512.0 1293.5 L505.0 1422.7 L501.5 1549.0 M843.3 1303.0 L841.7 1563.3 M841.7 1563.3 L851.7 1565.0 L855.9 1569.1 L860.0 1575.0 L864.1 1579.8 L870.0 1585.0 L880.0 1590.0 L890.0 1585.0 L900.0 1590.0 L904.9 1586.1 L910.0 1581.7 L920.0 1588.3 L928.3 1596.7 L931.4 1602.1 L931.7 1608.3 L940.0 1613.3 L946.3 1611.0 L953.3 1611.7 L959.9 1613.4 L966.7 1618.3 L974.9 1620.8 L981.7 1623.3 L986.7 1620.6 L993.3 1620.0 L1003.3 1625.0 L1011.7 1631.7 L1018.4 1626.4 L1023.3 1621.7 L1029.8 1622.7 L1036.7 1623.3 L1042.7 1624.1 L1050.0 1621.7 L1055.0 1625.0 L1053.3 1633.3 L1058.3 1640.0 L1063.4 1642.6 L1070.0 1643.3 L1073.3 1653.3 L1080.0 1660.0 L1090.0 1655.0 L1096.7 1646.7 L1103.3 1641.7 L1111.7 1648.3 L1118.3 1651.7 L1126.7 1653.3 L1130.0 1663.3 L1140.0 1658.3 L1146.7 1653.3 L1156.7 1651.7 L1161.7 1661.7 L1161.7 1673.3 L1163.6 1667.6 L1168.3 1661.7 L1176.7 1655.0 L1181.7 1645.0 L1190.0 1648.3 L1196.7 1655.0 L1206.7 1660.0 L1210.8 1654.1 L1215.0 1650.0 L1221.7 1656.7 L1228.1 1659.2 L1233.3 1663.3 L1238.7 1666.9 L1245.0 1670.0 L1253.3 1678.3 L1260.0 1670.0 L1270.0 1666.7 L1276.7 1660.0 L1282.6 1657.9 L1290.0 1655.0 L1300.0 1651.7 L1310.0 1656.7 L1315.5 1652.3 L1323.3 1650.0 L1330.1 1647.2 L1336.7 1643.3 L1342.2 1647.2 L1346.7 1651.7 L1353.0 1651.6 L1360.0 1651.7 L1367.3 1649.9 L1373.3 1646.7 L1381.7 1640.0 L1388.0 1641.8 L1393.3 1645.0 L1398.8 1649.7 L1403.3 1653.3 L1409.3 1657.9 L1416.7 1661.7 L1422.0 1666.1 L1430.0 1668.3 L1437.2 1670.7 L1443.3 1673.3 L1450.4 1674.7 L1456.7 1678.3 L1466.7 1683.3 L1474.2 1684.5 L1480.0 1688.3 L1488.5 1688.6 L1496.7 1687.3 L1503.0 1688.3 L1510.2 1687.5 L1516.7 1686.7 M1426.0 1154.0 L1429.2 1225.7 L1433.0 1290.0 L1442.5 1345.0 L1453.0 1398.0 L1460.5 1430.0 L1462.0 1533.0 L1466.5 1684.0 M1433.0 1290.5 L1585.7 1283.3 L1700.0 1275.5 L1800.0 1268.0 L1893.0 1261.5 M1516.7 1687.0 L1520.8 1759.8 L1524.5 1852.0 M1521.0 1760.8 L1625.5 1755.6" fill="none" stroke="#000" stroke-width="5.4" stroke-linejoin="round"/>
</g>
<path d="M173.3 880.7 L183.3 882.7 L195.0 880.7 L201.7 886.7 L198.3 893.3 L198.6 900.1 L197.6 906.9 L196.7 913.3 L195.3 918.5 L195.8 926.5 L193.3 931.7 L197.8 935.8 L201.7 941.7 L211.7 947.3 L218.3 955.0 L223.2 960.4 L230.0 963.3 L238.3 968.3 L245.0 960.0 L251.1 960.8 L256.5 960.0 L263.3 959.3 L272.4 958.3 L280.0 956.7 L287.1 956.2 L292.5 956.2 L300.0 955.0 L305.7 951.4 L310.0 946.7 L311.6 941.4 L315.0 935.0 L316.7 925.0 L326.7 924.0 L331.9 928.0 L338.3 930.0 L342.5 935.7 L346.7 939.3 L356.7 940.7 L364.4 938.2 L370.0 935.0 L378.9 932.9 L386.7 931.7 L395.7 928.8 L403.3 926.7 L411.3 925.6 L420.0 921.7 L422.9 915.6 L428.3 910.0 L434.9 907.1 L440.0 901.7 L450.0 898.3 L460.0 900.0 L468.3 908.3 L472.8 911.8 L478.1 914.9 L483.3 918.3 L493.3 923.3 L497.1 929.1 L500.0 935.0 L505.3 941.3 L510.0 946.0 L517.4 947.8 L524.1 949.5 L530.0 949.3 L536.0 949.8 L544.2 950.5 L550.0 949.3 L560.0 955.0 L566.3 958.8 L573.3 960.0 L578.3 968.3 L577.1 973.8 L576.2 980.6 L576.7 986.7 L580.0 995.0 L588.3 996.7 L598.3 993.3 L606.7 998.3 L612.8 999.9 L620.0 1003.3 L627.4 1005.4 L633.3 1005.0 L639.6 1008.2 L643.3 1012.7 L650.9 1010.9 L660.0 1009.3 L670.0 1015.0 L677.4 1018.9 L683.3 1023.3 L689.1 1024.5 L695.8 1023.7 L703.3 1023.3 L710.8 1024.0 L719.8 1024.5 L726.7 1023.3 L734.3 1023.3 L739.2 1022.7 L746.7 1023.3 L754.1 1022.9 L763.3 1021.7 L767.6 1017.6 L773.3 1015.0 L779.3 1015.4 L787.3 1013.5 L793.3 1015.0 L802.4 1012.6 L810.0 1011.7 L816.4 1013.0 L823.4 1011.6 L830.0 1011.7 L837.1 1012.4 L844.1 1012.4 L850.7 1013.9 L857.7 1012.7 L864.0 1010.1 L869.7 1008.3 L875.5 1009.9 L881.3 1013.3 L885.2 1019.4 L891.3 1023.3 L898.7 1023.2 L908.0 1022.7 L916.4 1020.2 L924.7 1018.3 L933.4 1017.6 L941.3 1020.0 L946.3 1023.3 L950.3 1019.2 L954.7 1013.3 L964.7 1016.7 L974.7 1011.7 L982.9 1012.6 L991.3 1012.7 L997.7 1013.6 L1004.7 1013.3 L1011.3 1008.3 L1019.7 1009.3 L1025.3 1016.3 L1031.3 1021.7 L1037.5 1021.7 L1044.7 1025.0 L1052.0 1028.3 L1058.0 1030.0 L1063.4 1032.6 L1068.0 1036.7 L1070.9 1041.6 L1074.7 1046.7 L1079.1 1042.4 L1084.7 1038.3 L1093.1 1036.2 L1101.3 1035.0 L1108.1 1037.7 L1114.7 1041.7 L1123.0 1043.3 L1124.2 1037.6 L1123.9 1029.5 L1124.0 1023.3 L1131.3 1016.7 L1141.3 1023.3 L1151.3 1019.3 L1157.7 1020.6 L1164.7 1023.3 L1173.0 1016.7 L1178.0 1011.7 L1186.3 1003.3 L1186.3 995.0 L1190.9 991.0 L1194.7 985.0 L1199.0 980.9 L1204.7 978.3 L1210.6 978.9 L1217.7 977.7 L1224.7 978.3 L1234.7 981.7 L1242.0 983.3 L1249.7 982.7 L1249.0 989.1 L1250.7 996.7 L1254.7 1006.7 L1260.3 1013.3 L1264.7 1020.0 L1270.5 1025.9 L1278.0 1030.0 L1279.7 1038.3 L1291.3 1038.3 L1301.3 1043.3 L1313.0 1041.7 L1319.7 1046.7 L1321.3 1056.7 L1324.7 1066.7 L1334.7 1073.3 L1343.0 1080.0 L1348.0 1073.3 L1358.0 1070.0 L1364.7 1075.0 L1363.0 1081.7 L1358.0 1090.0 L1361.7 1093.9 L1364.7 1100.0 L1366.1 1106.1 L1368.0 1113.3 L1373.0 1123.3 L1383.0 1126.7 L1384.7 1133.3 L1394.7 1136.7 L1399.6 1142.0 L1404.7 1145.0 L1411.3 1146.4 L1418.0 1150.0 L1426.3 1155.0 L1438.0 1155.0 L1444.7 1158.3 L1451.3 1150.0 L1461.3 1146.7 L1468.0 1141.7 L1474.7 1150.0 L1479.4 1154.3 L1484.7 1156.7 L1489.6 1163.0 L1496.3 1168.3 L1498.0 1176.7 L1503.0 1180.0 L1505.9 1185.9 L1511.3 1190.0 L1521.3 1193.3 L1525.0 1198.8 L1528.0 1205.0 L1534.6 1208.8 L1541.3 1213.3 L1546.1 1209.7 L1549.7 1203.3 L1553.2 1196.6 L1558.0 1193.3 L1559.7 1186.7 L1566.7 1185.9 L1571.3 1183.3 L1579.3 1181.3 L1585.7 1180.0 L1596.5 1176.6 L1604.5 1172.6 L1612.5 1166.8 L1616.4 1168.6 L1620.4 1175.3 L1631.0 1179.3 L1635.8 1183.2 L1635.0 1189.9 L1632.4 1195.2 L1641.7 1198.6 L1652.3 1197.1 L1658.5 1198.0 L1665.6 1196.0 L1676.2 1196.5 L1685.5 1195.2 L1686.8 1190.7 L1693.5 1188.0 L1700.1 1193.9 L1708.1 1197.8 L1714.7 1200.5 L1717.4 1191.2 L1722.7 1183.2 L1724.2 1176.0 L1724.0 1170.0 L1729.3 1159.3 L1730.6 1147.4 L1726.6 1138.1 L1729.3 1130.1 L1734.6 1127.5 L1742.6 1131.5 L1753.2 1128.8 L1757.2 1123.5 L1766.5 1127.5 L1777.1 1130.1 L1783.7 1131.5 L1783.7 1123.5 L1793.0 1120.8 L1801.0 1118.2 L1802.3 1108.9 L1808.5 1106.7 L1814.3 1103.6 L1824.9 1102.2 L1830.2 1099.6 L1835.5 1106.2 L1842.6 1106.8 L1850.1 1108.9 L1848.3 1116.9 L1847.5 1127.5 L1849.0 1135.2 L1848.8 1144.7 L1852.8 1151.4 L1855.5 1162.0 L1860.8 1170.0 L1862.1 1177.9 L1859.4 1183.2 L1864.3 1186.6 L1870.1 1189.9 L1878.0 1196.5 L1888.6 1201.8 L1896.6 1203.2 L1901.9 1208.5 L1911.2 1209.8 L1913.9 1217.8 L1919.2 1225.7 L1921.8 1235.0 L1920.5 1241.7 L1909.9 1244.3 L1903.3 1249.6 L1900.6 1257.6 L1894.0 1261.6 L1888.6 1265.6 L1887.3 1276.2 L1882.0 1282.8 L1872.7 1288.1 L1867.5 1290.8 L1862.1 1296.1 L1855.5 1300.1 L1851.5 1309.4 L1847.5 1318.7 L1842.2 1329.3 L1848.8 1332.0 L1846.2 1337.3 L1838.2 1343.9 L1832.9 1347.9 L1830.2 1358.5 L1825.0 1363.3 L1822.3 1369.1 L1824.9 1377.1 L1819.6 1385.1 L1814.3 1395.7 L1813.0 1403.7 L1814.2 1413.3 L1813.6 1420.8 L1815.5 1426.6 L1810.2 1434.5 L1806.3 1440.8 L1804.9 1447.8 L1794.3 1450.5 L1783.7 1449.1 L1776.4 1450.0 L1770.4 1447.8 L1759.8 1443.8 L1749.1 1441.2 L1743.8 1434.5 L1733.2 1434.5 L1725.2 1441.2 L1722.6 1447.8 L1727.9 1454.4 L1719.9 1459.8 L1709.3 1463.7 L1705.3 1470.4 L1710.6 1475.7 L1715.9 1477.0 L1706.6 1479.7 L1700.0 1482.3 L1702.7 1490.3 L1700.0 1500.9 L1704.0 1506.2 L1713.3 1508.9 L1722.6 1510.2 L1727.9 1515.5 L1726.6 1524.8 L1733.2 1527.5 L1739.8 1532.8 L1742.5 1543.4 L1746.5 1554.0 L1753.1 1559.3 L1758.4 1564.7 L1757.1 1573.9 L1759.8 1581.9 L1753.1 1584.6 L1746.5 1581.9 L1735.9 1585.9 L1727.9 1580.6 L1721.3 1575.3 L1719.9 1566.0 L1718.6 1558.0 L1709.3 1559.3 L1708.0 1552.7 L1700.0 1551.4 L1692.0 1543.4 L1687.0 1540.4 L1682.7 1535.4 L1677.4 1526.1 L1670.8 1518.2 L1665.5 1512.9 L1660.2 1506.2 L1650.9 1506.2 L1641.6 1503.6 L1635.4 1504.4 L1629.6 1506.2 L1620.3 1510.2 L1615.0 1516.9 L1608.4 1518.2 L1597.8 1515.5 L1590.4 1517.3 L1584.5 1518.2 L1577.8 1515.5 L1568.6 1508.9 L1563.2 1512.9 L1556.7 1515.7 L1550.0 1519.5 L1544.6 1524.6 L1539.3 1527.5 L1528.7 1530.1 L1524.7 1536.8 L1512.8 1536.8 L1505.6 1536.1 L1499.5 1535.4 L1493.4 1535.9 L1486.2 1535.4 L1476.9 1535.4 L1474.3 1538.1 L1483.6 1542.1 L1484.9 1554.0 L1488.9 1560.7 L1499.5 1566.0 L1506.7 1567.5 L1512.8 1568.6 L1516.8 1576.6 L1522.1 1583.2 L1523.4 1593.9 L1520.8 1601.8 L1524.7 1612.5 L1528.7 1620.4 L1535.4 1621.8 L1536.7 1631.0 L1540.7 1639.0 L1541.8 1646.2 L1540.7 1652.3 L1550.0 1653.6 L1557.9 1653.6 L1564.6 1658.9 L1565.9 1668.2 L1569.9 1673.5 L1577.8 1670.9 L1584.2 1673.0 L1589.8 1672.2 L1597.8 1678.8 L1603.1 1686.8 L1608.4 1697.4 L1613.7 1708.1 L1619.0 1718.7 L1619.1 1724.6 L1621.7 1732.0 L1622.7 1739.4 L1624.3 1745.2 L1626.4 1751.3 L1625.7 1758.5 L1626.4 1765.2 L1625.7 1771.8 L1624.3 1779.8 L1628.3 1787.7 L1634.9 1795.7 L1642.9 1801.0 L1650.9 1809.0 L1656.2 1816.9 L1657.5 1827.6 L1654.9 1838.2 L1654.2 1845.3 L1653.0 1852.5 L1651.0 1862.8 L1654.1 1871.0 L1660.2 1879.3 L1665.4 1889.6 L1668.5 1899.9 L1674.7 1908.1 L1685.0 1912.2 L1693.2 1918.4 L1699.4 1924.6 L1701.5 1934.9 L1700.4 1943.1 L1702.5 1951.4 L1707.6 1957.6 L1709.7 1965.8 L1715.9 1969.9 L1721.0 1976.1 L1717.9 1983.3 L1711.8 1981.3 L1703.5 1977.1 L1693.2 1976.1 L1685.0 1976.1 L1683.7 1981.3 L1683.9 1988.5 L1685.0 1997.8 L1680.8 1999.8 L1674.7 1994.7 L1670.5 1986.4 L1667.5 1976.1 L1657.1 1978.2 L1649.9 1968.9 L1645.8 1976.1 L1637.6 1981.3 L1627.3 1983.3 L1621.1 1984.4 L1613.9 1977.1 L1611.8 1967.9 L1606.7 1959.6 L1604.6 1949.3 L1596.4 1941.1 L1591.2 1937.0 L1595.3 1932.8 L1592.2 1922.5 L1588.1 1916.4 L1580.9 1914.3 L1579.9 1904.0 L1580.9 1895.8 L1571.6 1893.7 L1561.3 1894.7 L1556.2 1889.6 L1554.1 1881.3 L1546.9 1876.2 L1540.7 1871.0 L1532.5 1867.9 L1527.3 1862.8 L1530.4 1857.6 L1524.2 1853.5 L1522.2 1844.2 L1511.9 1845.3 L1505.7 1840.1 L1502.6 1831.9 L1498.5 1824.7 L1491.3 1823.6 L1483.0 1824.7 L1476.8 1822.6 L1466.5 1826.7 L1456.2 1830.8 L1447.0 1829.8 L1439.8 1823.6 L1434.1 1824.1 L1427.4 1821.6 L1418.1 1814.4 L1411.9 1808.2 L1402.7 1813.3 L1396.5 1807.2 L1394.4 1801.0 L1388.2 1798.9 L1385.2 1788.6 L1384.1 1780.4 L1376.7 1773.3 L1370.0 1765.0 L1360.0 1763.3 L1354.0 1763.8 L1346.7 1761.7 L1339.9 1757.5 L1333.3 1756.7 L1326.3 1756.3 L1320.0 1753.3 L1313.7 1753.9 L1306.7 1753.3 L1296.7 1750.0 L1290.0 1743.3 L1284.5 1738.4 L1280.0 1733.3 L1270.0 1728.3 L1267.0 1723.4 L1263.3 1718.3 L1253.3 1713.3 L1246.7 1705.0 L1236.7 1704.0 L1231.4 1706.2 L1225.0 1706.7 L1216.7 1703.3 L1210.8 1700.0 L1206.7 1695.0 L1196.7 1690.0 L1186.7 1686.7 L1182.3 1682.9 L1176.7 1680.0 L1170.8 1682.1 L1163.3 1681.7 L1153.3 1678.3 L1146.4 1677.0 L1140.0 1675.0 L1130.0 1678.3 L1123.5 1678.2 L1116.7 1680.0 L1106.7 1685.0 L1099.5 1685.8 L1093.3 1688.3 L1087.0 1693.3 L1080.0 1698.3 L1073.0 1698.3 L1066.7 1698.3 L1061.5 1702.1 L1056.7 1705.0 L1050.5 1705.1 L1043.3 1705.0 L1033.3 1701.7 L1026.3 1706.0 L1020.0 1710.0 L1013.3 1708.3 L1005.4 1711.3 L996.7 1711.7 L989.5 1715.5 L983.3 1718.3 L977.7 1720.4 L973.3 1725.0 L966.7 1718.3 L956.7 1715.0 L952.2 1708.7 L946.7 1705.0 L939.6 1700.7 L933.3 1695.0 L925.5 1691.6 L920.0 1686.7 L912.5 1689.0 L906.7 1691.7 L898.2 1689.0 L890.0 1688.3 L883.0 1690.1 L876.7 1693.3 L868.3 1695.4 L860.0 1695.0 L852.4 1697.0 L843.3 1696.0 L837.4 1696.1 L830.0 1698.3 L822.7 1701.1 L813.3 1701.7 L807.1 1701.2 L800.0 1703.3 L793.3 1702.7 L784.6 1705.5 L776.7 1705.0 L771.7 1698.3 L765.0 1691.7 L763.3 1680.0 L753.3 1676.7 L748.6 1682.2 L743.3 1685.0 L735.0 1678.3 L729.9 1673.3 L725.0 1670.0 L720.7 1665.4 L715.0 1663.3 L707.3 1655.0 L708.3 1645.0 L700.0 1641.7 L696.9 1637.2 L691.7 1632.1 L686.7 1628.3 L684.3 1622.8 L680.0 1616.7 L668.3 1618.3 L667.8 1611.2 L664.8 1606.7 L665.0 1600.0 L656.7 1595.0 L649.4 1593.5 L643.3 1592.7 L638.3 1589.9 L633.3 1585.0 L625.0 1585.0 L616.7 1580.0 L608.3 1578.3 L601.9 1574.7 L596.7 1570.0 L591.7 1561.7 L585.4 1558.8 L578.3 1557.3 L572.5 1555.0 L566.7 1551.7 L561.7 1557.3 L555.7 1557.6 L549.4 1558.2 L543.3 1556.7 L535.9 1554.3 L528.5 1554.2 L520.0 1554.0 L513.5 1552.2 L507.9 1551.2 L501.7 1550.7 L495.6 1549.0 L490.0 1547.3 L484.1 1545.8 L476.7 1546.7 L469.4 1547.1 L463.3 1545.0 L457.2 1540.4 L450.0 1538.3 L438.3 1538.3 L430.0 1533.3 L426.3 1527.2 L423.3 1521.7 L416.7 1513.3 L410.7 1515.9 L403.3 1516.7 L400.0 1510.0 L393.5 1507.4 L388.3 1503.3 L385.0 1493.3 L379.9 1496.1 L373.3 1498.3 L363.3 1495.0 L355.6 1497.2 L350.0 1500.0 L343.3 1491.7 L336.7 1485.0 L330.0 1476.7 L328.5 1468.9 L328.3 1461.7 L322.6 1457.7 L318.3 1454.0 L306.7 1455.0 L302.7 1446.7 L308.3 1443.3 L306.7 1435.0 L300.0 1431.7 L295.0 1423.3 L286.7 1416.7 L290.0 1410.0 L283.3 1403.3 L282.0 1397.9 L280.0 1391.7 L273.3 1386.7 L265.9 1387.3 L256.7 1386.0 L250.2 1384.0 L243.3 1381.7 L237.9 1379.4 L233.3 1375.0 L230.0 1370.0 L235.0 1363.3 L233.3 1353.3 L230.0 1346.7 L240.0 1341.7 L246.7 1333.3 L247.3 1326.6 L247.9 1320.0 L250.0 1315.0 L258.3 1311.7 L260.0 1300.0 L258.3 1290.0 L260.7 1281.7 L256.0 1275.0 L258.3 1268.3 L257.3 1256.7 L263.3 1250.0 L275.0 1248.3 L275.0 1236.7 L276.6 1229.8 L278.3 1223.3 L273.3 1218.3 L274.0 1211.7 L278.3 1203.3 L281.3 1196.0 L284.0 1190.0 L285.5 1183.3 L285.0 1176.7 L284.9 1169.6 L285.0 1163.3 L290.0 1158.3 L286.7 1148.3 L286.7 1136.7 L283.3 1126.7 L273.3 1123.3 L263.3 1125.0 L255.0 1133.3 L251.7 1126.7 L255.0 1116.7 L258.3 1106.7 L261.0 1101.4 L261.7 1095.0 L260.0 1090.0 L251.7 1081.7 L243.3 1073.3 L241.3 1063.9 L238.3 1056.7 L234.3 1049.7 L230.0 1041.7 L224.1 1037.9 L220.0 1033.3 L216.1 1026.7 L213.4 1022.0 L208.3 1016.7 L201.7 1010.0 L198.3 1013.3 L193.3 1022.7 L183.3 1025.0 L178.3 1021.7 L180.0 1013.3 L175.0 1006.7 L171.1 1002.6 L168.3 996.7 L165.6 989.9 L165.0 983.3 L160.0 975.0 L163.3 970.0 L166.3 962.9 L166.7 956.7 L173.3 948.3 L163.3 943.3 L156.7 935.0 L148.3 931.7 L148.3 925.0 L150.4 918.2 L153.3 913.3 L161.7 906.7 L161.1 900.1 L161.7 893.3 L166.7 888.3 L173.3 880.7 Z" fill="none" stroke="#000" stroke-width="5.4" stroke-linejoin="round"/>
</g>
<g id="logos">
<text x="2100.5" y="2262.3" font-size="88" textLength="197" lengthAdjust="spacingAndGlyphs" style="font-family:'Liberation Serif',serif;fill:#231f20">USDA</text>
<path fill="#231f20" d="M2102.7 2270.0 L2131.1 2271.2 L2166.6 2278.5 L2131.1 2276.8 L2102.7 2278.5 Z"/>
<path fill="#231f20" d="M2102.7 2283.4 L2148.1 2282.8 C2193.6 2275.7 2250.3 2271.2 2294.9 2270.0 L2294.9 2278.0 C2250.3 2278.5 2199.2 2281.9 2151.0 2290.5 C2133.9 2294.7 2116.9 2299.0 2104.1 2304.7 C2114.1 2297.6 2128.3 2291.9 2146.7 2286.2 L2102.7 2289.9 Z"/>
<path fill="#231f20" d="M2102.7 2310.9 C2151.0 2294.7 2221.9 2285.3 2294.9 2283.9 L2294.9 2337.6 L2102.7 2337.6 Z"/>
<circle cx="2484.5" cy="2269.2" r="82.3" fill="#231f20"/>
<defs><clipPath id="ndc"><circle cx="2484.5" cy="2269.2" r="82.3"/></clipPath><path id="ndT" d="M2484.5 2356.0 A86.8 86.8 0 1 1 2484.51 2356.0"/><path id="ndB" d="M2484.5 2170.0 A99.2 99.2 0 1 0 2484.51 2170.0"/></defs>
<g clip-path="url(#ndc)"><path fill="#fff" d="M2400.8 2293.3 C2420.7 2310.3 2437.7 2293.3 2460.4 2287.6 C2483.1 2283.4 2491.6 2306.1 2514.3 2303.2 C2534.2 2300.4 2545.6 2290.5 2568.3 2296.1 L2568.3 2355.7 L2400.8 2355.7 Z"/><path fill="#808080" d="M2406.5 2300.4 C2423.5 2313.2 2440.5 2299.0 2460.4 2293.3 C2483.1 2289.0 2491.6 2311.7 2514.3 2308.9 C2534.2 2306.1 2545.6 2297.6 2562.6 2302.4 C2545.6 2304.7 2534.2 2317.4 2511.5 2320.3 C2488.8 2321.7 2477.4 2307.5 2460.4 2310.3 C2446.2 2314.6 2437.7 2328.8 2424.9 2329.6 C2417.8 2321.7 2410.7 2310.3 2406.5 2300.4 Z"/><path fill="#231f20" d="M2427.8 2335.9 C2440.5 2333.0 2449.0 2318.8 2461.8 2316.6 C2477.4 2314.6 2488.8 2327.9 2511.5 2325.9 C2534.2 2324.0 2545.6 2310.3 2562.6 2308.9 L2568.3 2355.7 L2400.8 2355.7 Z"/><path fill="none" stroke="#fff" stroke-width="2" d="M2464.7 2316.6 L2473.2 2335.9 L2457.6 2345.8 M2473.2 2335.9 L2510.1 2347.2 L2522.9 2321.7 M2527.1 2319.4 L2548.4 2327.4"/></g>
<text class="b" x="2421.0" y="2278.5" font-size="61" textLength="127" lengthAdjust="spacingAndGlyphs" style="fill:#fff;stroke:#fff;stroke-width:1.6px">NDMC</text>
<text class="b" font-size="13" style="fill:#231f20" textLength="289" lengthAdjust="spacing"><textPath href="#ndT" startOffset="50%" text-anchor="middle">NATIONAL DROUGHT MITIGATION CENTER</textPath></text>
<text class="b" font-size="13" style="fill:#231f20" textLength="212" lengthAdjust="spacing"><textPath href="#ndB" startOffset="50%" text-anchor="middle">UNIVERSITY OF NEBRASKA</textPath></text>
<circle cx="2394.5" cy="2299.5" r="2.6" fill="#231f20"/><circle cx="2574.0" cy="2299.5" r="2.6" fill="#231f20"/>
<circle cx="2771.4" cy="2270.6" r="88" fill="none" stroke="#000" stroke-width="22"/>
<defs><path id="dcT" d="M2771.4 2352.6 A82 82 0 1 1 2771.4100000000003 2352.6"/><path id="dcB" d="M2771.4 2175.6 A95 95 0 1 0 2771.4100000000003 2175.6"/></defs>
<text class="b" font-size="17.5" style="fill:#fff" textLength="220" lengthAdjust="spacingAndGlyphs"><textPath href="#dcT" startOffset="50%" text-anchor="middle">DEPARTMENT OF COMMERCE</textPath></text>
<text class="b" font-size="17.5" style="fill:#fff" textLength="246" lengthAdjust="spacingAndGlyphs"><textPath href="#dcB" startOffset="50%" text-anchor="middle">UNITED STATES OF AMERICA</textPath></text>
<text font-size="13" class="m" x="2682.6" y="2274.0" style="fill:#fff">★</text><text font-size="13" class="m" x="2860.9" y="2275.1" style="fill:#fff">★</text>
<path fill="#bdbdbd" stroke="#2a2a2a" stroke-width="1.8" d="M2733.6 2292.3 L2808.6 2292.3 L2808.6 2315.1 C2807.9 2320.3 2803.4 2322.9 2798.1 2325.5 L2771.4 2337.9 L2744.7 2325.5 C2739.5 2322.9 2734.3 2320.3 2733.6 2315.1 Z"/>
<path fill="#7f7f7f" stroke="#2a2a2a" stroke-width="1.8" d="M2727.1 2253.2 L2815.7 2253.2 L2811.2 2259.0 L2808.6 2263.0 L2808.6 2292.3 L2733.6 2292.3 L2733.6 2263.0 L2731.4 2259.0 Z"/>
<path fill="#555" d="M2727.1 2253.2 L2815.7 2253.2 L2814.4 2255.1 L2728.4 2255.1 Z"/>
<path fill="#fff" d="M2738.8 2274.7 L2764.3 2259.0 L2768.2 2263.0 L2791.6 2263.0 L2792.9 2274.7 L2796.8 2281.2 L2790.3 2283.8 L2753.8 2284.5 Z"/>
<path fill="none" stroke="#111" stroke-width="1.5" d="M2761.7 2268.2 L2791.6 2268.2 M2756.4 2274.0 L2792.9 2274.0 M2751.2 2279.2 L2794.2 2279.2 M2764.3 2260.4 L2763.0 2283.8 M2772.1 2263.0 L2772.1 2283.8 M2779.9 2263.0 L2780.6 2283.8 M2787.1 2263.0 L2788.4 2283.8 M2774.7 2256.4 L2774.7 2263.0 M2788.4 2259.0 L2788.4 2263.0"/>
<path fill="#222" d="M2782.5 2266.9 L2787.1 2266.9 L2787.7 2281.2 L2782.5 2281.2 Z M2749.9 2282.5 L2795.5 2281.9 L2790.3 2285.8 L2756.4 2286.2 Z"/>
<path fill="none" stroke="#333" stroke-width="1" stroke-dasharray="5 3" d="M2738.2 2287.1 L2803.4 2286.7 M2740.8 2289.3 L2800.8 2289.0"/>
<path fill="none" stroke="#e6e6e6" stroke-width="1.6" stroke-dasharray="2 1.5" d="M2764.3 2298.1 L2739.5 2304.7 M2764.3 2300.1 L2740.8 2311.2 M2764.3 2296.8 L2743.4 2298.1 M2777.3 2298.1 L2802.1 2304.7 M2777.3 2300.1 L2800.8 2311.2 M2777.3 2296.8 L2798.1 2298.1"/>
<path fill="#4a4a4a" d="M2768.8 2294.9 L2773.1 2294.9 L2773.6 2298.8 L2774.7 2328.1 L2766.9 2328.1 L2768.2 2298.8 Z"/>
<path fill="#8a8a8a" stroke="#333" stroke-width="0.8" d="M2757.1 2330.1 L2766.9 2327.5 L2776.0 2327.5 L2783.8 2330.7 L2771.4 2335.9 Z"/>
<path fill="#a8a8a8" stroke="#555" stroke-width="1" d="M2745.4 2203.7 C2753.8 2209.5 2761.7 2214.7 2766.2 2221.3 L2768.2 2217.3 L2774.7 2217.3 L2777.3 2221.3 C2782.5 2214.7 2790.3 2208.9 2798.1 2205.4 C2796.8 2216.0 2791.6 2227.8 2781.2 2236.9 L2779.9 2243.4 L2764.3 2243.4 L2763.0 2236.9 C2753.8 2229.1 2746.7 2216.0 2745.4 2203.7 Z"/>
<circle cx="2771.8" cy="2221.3" r="3.6" fill="#f0f0f0" stroke="#444" stroke-width="0.8"/>
<ellipse cx="2771.8" cy="2233.0" rx="5.5" ry="8.5" fill="#bbb"/>
<path fill="#333" d="M2755.1 2245.4 L2789.0 2245.4 L2788.4 2248.9 L2755.8 2248.9 Z"/>
<circle cx="3057.3" cy="2270.6" r="81" fill="#231f20"/>
<defs><clipPath id="noc"><circle cx="3057.3" cy="2270.6" r="81"/></clipPath><path id="noT" d="M3057.3 2355.1 A84.5 84.5 0 1 1 3057.3100000000004 2355.1"/><path id="noB" d="M3057.3 2175.6 A95 95 0 1 0 3057.3100000000004 2175.6"/></defs>
<path clip-path="url(#noc)" fill="#fff" d="M2992.0 2222.3 C3009.0 2233.7 3020.4 2259.2 3037.4 2273.4 C3048.8 2281.9 3060.1 2286.2 3071.5 2281.9 C3085.7 2264.9 3099.9 2233.7 3122.6 2220.9 L3139.6 2230.8 C3122.6 2247.9 3105.6 2270.6 3082.9 2281.9 L3077.2 2286.2 L3094.2 2287.6 L3060.1 2294.7 C3048.8 2301.8 3040.3 2304.7 3030.3 2303.2 L3057.3 2291.9 C3037.4 2287.6 3020.4 2284.8 3006.2 2273.4 C2994.9 2262.1 2986.3 2253.6 2975.0 2249.3 L2980.7 2230.8 Z"/>
<text class="b" x="3021" y="2241.6" font-size="29" textLength="69" lengthAdjust="spacingAndGlyphs" style="fill:#fff;stroke:#fff;stroke-width:1px">NOAA</text>
<text font-size="10.8" style="fill:#231f20" textLength="321" lengthAdjust="spacing"><textPath href="#noT" startOffset="50%" text-anchor="middle">NATIONAL OCEANIC AND ATMOSPHERIC ADMINISTRATION</textPath></text>
<text font-size="10.8" style="fill:#231f20" textLength="198" lengthAdjust="spacing"><textPath href="#noB" startOffset="50%" text-anchor="middle">U.S. DEPARTMENT OF COMMERCE</textPath></text>
</g>
</svg>
</body></html>
